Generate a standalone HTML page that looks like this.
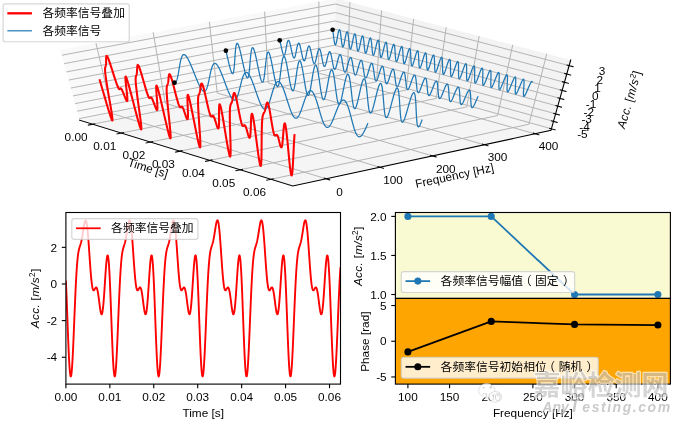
<!DOCTYPE html>
<html><head><meta charset="utf-8"><title>Figure</title>
<style>
html,body{margin:0;padding:0;background:#fff;}
body{width:680px;height:425px;overflow:hidden;}
svg{display:block;font-family:"Liberation Sans","Noto Sans CJK SC",sans-serif;}
</style></head><body>
<svg width="680" height="425" viewBox="0 0 680 425">
<rect width="680" height="425" fill="#fff"/>
<g opacity="0.999">
<g id="ax3d">
<polygon points="79.66,120.25 334.16,69.92 335.72,-1.63 60.3,49.64" fill="#f9f9f9"/>
<polygon points="334.16,69.92 551,130.4 570.69,60.03 335.72,-1.63" fill="#f3f3f3"/>
<polygon points="79.66,120.25 292.73,185.97 551,130.4 334.16,69.92" fill="#f5f5f5"/>
<g fill="none" stroke="#b0b0b0" stroke-width="0.94" stroke-linejoin="round">
<polyline points="92.59,124.23 347.34,73.6 349.95,2.11"/>
<polyline points="121.29,133.09 376.6,81.76 381.56,10.4"/>
<polyline points="150.4,142.07 406.26,90.03 413.64,18.82"/>
<polyline points="179.93,151.18 436.31,98.41 446.18,27.36"/>
<polyline points="209.87,160.41 466.78,106.91 479.2,36.02"/>
<polyline points="240.24,169.78 497.67,115.53 512.72,44.82"/>
<polyline points="271.05,179.29 528.98,124.26 546.74,53.74"/>
<polyline points="326.11,178.79 112.49,113.75 95.93,43.01"/>
<polyline points="379.76,167.25 165.29,103.31 153.17,32.35"/>
<polyline points="432.47,155.91 217.22,93.04 209.4,21.89"/>
<polyline points="484.28,144.76 268.31,82.94 264.63,11.61"/>
<polyline points="535.21,133.8 318.56,73.01 318.9,1.5"/>
<polyline points="79.22,118.64 334.19,68.29 551.45,128.81"/>
<polyline points="77.18,111.2 334.36,60.73 553.53,121.39"/>
<polyline points="75.1,103.62 334.52,53.04 555.64,113.84"/>
<polyline points="72.99,95.92 334.69,45.22 557.78,106.16"/>
<polyline points="70.83,88.07 334.87,37.26 559.97,98.34"/>
<polyline points="68.64,80.08 335.04,29.17 562.2,90.38"/>
<polyline points="66.42,71.95 335.22,20.93 564.46,82.28"/>
<polyline points="64.15,63.67 335.41,12.56 566.77,74.02"/>
<polyline points="61.83,55.24 335.59,4.03 569.13,65.61"/>
</g>
<g fill="none" stroke="#1f77b4" stroke-width="1.25" stroke-linejoin="round">
<path d="M174.48 82.71 L174.73 82.69 L174.97 82.62 L175.2 82.51 L175.43 82.34 L175.65 82.13 L175.86 81.88 L176.07 81.58 L176.26 81.23 L176.46 80.84 L176.64 80.41 L176.82 79.94 L177 79.43 L177.17 78.89 L177.33 78.3 L177.49 77.69 L177.65 77.04 L177.8 76.37 L177.95 75.67 L178.09 74.94 L178.24 74.19 L178.37 73.43 L178.51 72.64 L178.65 71.84 L178.78 71.03 L178.92 70.21 L179.05 69.39 L179.18 68.56 L179.32 67.73 L179.45 66.9 L179.59 66.08 L179.73 65.27 L179.87 64.46 L180.01 63.67 L180.16 62.9 L180.3 62.15 L180.46 61.42 L180.61 60.71 L180.78 60.03 L180.94 59.38 L181.11 58.77 L181.29 58.19 L181.47 57.64 L181.66 57.13 L181.86 56.67 L182.06 56.25 L182.26 55.87 L182.48 55.54 L182.7 55.25 L182.93 55.02 L183.17 54.84 L183.41 54.7 L183.66 54.62 L183.92 54.59 L184.19 54.61 L184.46 54.68 L184.74 54.81 L185.03 54.99 L185.33 55.22 L185.63 55.51 L185.94 55.84 L186.26 56.23 L186.58 56.66 L186.91 57.14 L187.25 57.67 L187.59 58.24 L187.94 58.86 L188.29 59.51 L188.65 60.21 L189.01 60.94 L189.38 61.71 L189.75 62.51 L190.13 63.34 L190.51 64.2 L190.89 65.08 L191.27 65.99 L191.66 66.91 L192.05 67.85 L192.44 68.81 L192.83 69.78 L193.22 70.75 L193.61 71.74 L194.01 72.72 L194.4 73.7 L194.79 74.68 L195.18 75.66 L195.56 76.63 L195.95 77.58 L196.33 78.52 L196.71 79.45 L197.09 80.35 L197.46 81.24 L197.83 82.09 L198.2 82.93 L198.56 83.73 L198.92 84.5 L199.28 85.24 L199.62 85.95 L199.97 86.62 L200.31 87.25 L200.64 87.84 L200.97 88.39 L201.29 88.89 L201.61 89.35 L201.92 89.77 L202.22 90.14 L202.52 90.47 L202.81 90.74 L203.1 90.97 L203.38 91.15 L203.65 91.28 L203.92 91.36 L204.18 91.4 L204.43 91.38 L204.68 91.32 L204.93 91.2 L205.16 91.04 L205.4 90.84 L205.62 90.58 L205.84 90.28 L206.06 89.94 L206.27 89.56 L206.48 89.13 L206.68 88.66 L206.88 88.16 L207.07 87.61 L207.26 87.04 L207.45 86.42 L207.63 85.78 L207.81 85.11 L207.99 84.41 L208.16 83.69 L208.34 82.95 L208.51 82.18 L208.68 81.4 L208.85 80.61 L209.01 79.8 L209.18 78.98 L209.35 78.16 L209.51 77.34 L209.68 76.51 L209.85 75.69 L210.02 74.87 L210.19 74.06 L210.36 73.26 L210.54 72.47 L210.71 71.7 L210.89 70.95 L211.08 70.22 L211.26 69.52 L211.45 68.84 L211.65 68.2 L211.85 67.58 L212.05 67 L212.25 66.46 L212.47 65.95 L212.68 65.49 L212.9 65.07 L213.13 64.69 L213.36 64.36 L213.6 64.08 L213.84 63.85 L214.09 63.66 L214.35 63.53 L214.61 63.45 L214.88 63.42 L215.15 63.44 L215.43 63.51 L215.71 63.64 L216 63.82 L216.29 64.05 L216.59 64.34 L216.9 64.67 L217.21 65.05 L217.53 65.49 L217.85 65.97 L218.17 66.49 L218.5 67.07 L218.84 67.68 L219.18 68.34 L219.52 69.03 L219.86 69.76 L220.21 70.53 L220.56 71.33 L220.92 72.16 L221.28 73.01 L221.64 73.9 L222 74.8 L222.36 75.72 L222.72 76.67 L223.09 77.62 L223.45 78.59 L223.82 79.56 L224.18 80.54 L224.55 81.53 L224.92 82.51 L225.28 83.49 L225.64 84.46 L226.01 85.43 L226.37 86.38 L226.72 87.32 L227.08 88.25 L227.43 89.15 L227.79 90.03 L228.13 90.89 L228.48 91.72 L228.82 92.53 L229.16 93.3 L229.5 94.04 L229.83 94.74 L230.16 95.41 L230.48 96.04 L230.8 96.63 L231.12 97.18 L231.43 97.69 L231.74 98.15 L232.04 98.57 L232.34 98.94 L232.63 99.27 L232.92 99.55 L233.2 99.78 L233.48 99.96 L233.76 100.09 L234.03 100.17 L234.3 100.21 L234.56 100.2 L234.82 100.13 L235.07 100.02 L235.32 99.87 L235.57 99.66 L235.81 99.41 L236.05 99.12 L236.28 98.78 L236.51 98.39 L236.74 97.97 L236.96 97.51 L237.19 97 L237.4 96.47 L237.62 95.89 L237.83 95.28 L238.04 94.65 L238.25 93.98 L238.46 93.29 L238.67 92.57 L238.87 91.83 L239.07 91.07 L239.28 90.29 L239.48 89.5 L239.68 88.69 L239.88 87.88 L240.08 87.06 L240.28 86.24 L240.48 85.42 L240.69 84.6 L240.89 83.78 L241.1 82.98 L241.3 82.18 L241.51 81.4 L241.72 80.63 L241.93 79.88 L242.15 79.16 L242.36 78.46 L242.58 77.78 L242.8 77.14 L243.03 76.53 L243.26 75.95 L243.49 75.41 L243.73 74.9 L243.96 74.44 L244.21 74.02 L244.45 73.65 L244.7 73.32 L244.96 73.04 L245.22 72.81 L245.48 72.62 L245.74 72.49 L246.01 72.41 L246.29 72.38 L246.57 72.4 L246.85 72.48 L247.13 72.6 L247.42 72.78 L247.72 73.01 L248.02 73.3 L248.32 73.63 L248.62 74.01 L248.93 74.45 L249.24 74.93 L249.56 75.45 L249.87 76.02 L250.19 76.64 L250.52 77.29 L250.84 77.98 L251.17 78.71 L251.5 79.48 L251.83 80.28 L252.16 81.11 L252.5 81.96 L252.83 82.84 L253.17 83.75 L253.51 84.67 L253.85 85.61 L254.19 86.56 L254.53 87.53 L254.86 88.5 L255.2 89.48 L255.54 90.46 L255.88 91.44 L256.22 92.42 L256.56 93.39 L256.89 94.36 L257.23 95.31 L257.56 96.25 L257.89 97.17 L258.22 98.08 L258.55 98.96 L258.87 99.82 L259.2 100.65 L259.52 101.45 L259.84 102.22 L260.15 102.96 L260.47 103.67 L260.78 104.34 L261.09 104.97 L261.4 105.56 L261.7 106.11 L262 106.61 L262.3 107.08 L262.59 107.5 L262.89 107.87 L263.18 108.2 L263.46 108.48 L263.75 108.71 L264.03 108.89 L264.3 109.03 L264.58 109.11 L264.85 109.15 L265.12 109.14 L265.39 109.08 L265.65 108.97 L265.91 108.82 L266.17 108.61 L266.43 108.37 L266.69 108.08 L266.94 107.74 L267.19 107.36 L267.44 106.94 L267.68 106.48 L267.93 105.98 L268.17 105.45 L268.42 104.88 L268.66 104.27 L268.9 103.64 L269.14 102.97 L269.37 102.29 L269.61 101.57 L269.85 100.83 L270.08 100.08 L270.32 99.31 L270.56 98.52 L270.79 97.72 L271.03 96.91 L271.26 96.1 L271.5 95.28 L271.74 94.46 L271.98 93.64 L272.22 92.83 L272.45 92.03 L272.7 91.23 L272.94 90.45 L273.18 89.69 L273.43 88.95 L273.67 88.22 L273.92 87.52 L274.17 86.85 L274.42 86.21 L274.68 85.6 L274.93 85.03 L275.19 84.49 L275.45 83.99 L275.71 83.53 L275.97 83.11 L276.24 82.74 L276.51 82.41 L276.78 82.13 L277.05 81.9 L277.33 81.72 L277.61 81.58 L277.89 81.5 L278.17 81.47 L278.45 81.5 L278.74 81.57 L279.03 81.7 L279.32 81.88 L279.61 82.11 L279.91 82.39 L280.2 82.73 L280.5 83.11 L280.8 83.54 L281.1 84.02 L281.41 84.54 L281.71 85.11 L282.02 85.73 L282.32 86.38 L282.63 87.07 L282.94 87.8 L283.25 88.56 L283.56 89.36 L283.87 90.19 L284.18 91.04 L284.49 91.92 L284.81 92.82 L285.12 93.74 L285.43 94.68 L285.74 95.63 L286.06 96.6 L286.37 97.57 L286.68 98.55 L286.99 99.53 L287.3 100.51 L287.61 101.48 L287.92 102.46 L288.23 103.42 L288.54 104.37 L288.84 105.31 L289.15 106.23 L289.46 107.13 L289.76 108.01 L290.06 108.87 L290.36 109.7 L290.66 110.5 L290.96 111.28 L291.26 112.01 L291.56 112.72 L291.85 113.39 L292.14 114.02 L292.44 114.61 L292.73 115.16 L293.02 115.67 L293.3 116.13 L293.59 116.55 L293.88 116.93 L294.16 117.25 L294.45 117.54 L294.73 117.77 L295.01 117.95 L295.29 118.09 L295.57 118.18 L295.85 118.22 L296.12 118.21 L296.4 118.15 L296.67 118.05 L296.95 117.9 L297.22 117.7 L297.49 117.45 L297.77 117.16 L298.04 116.83 L298.31 116.46 L298.58 116.04 L298.85 115.58 L299.12 115.09 L299.39 114.56 L299.66 113.99 L299.93 113.39 L300.2 112.76 L300.47 112.1 L300.74 111.42 L301.01 110.71 L301.28 109.97 L301.55 109.22 L301.82 108.45 L302.09 107.67 L302.36 106.87 L302.63 106.07 L302.91 105.26 L303.18 104.45 L303.45 103.63 L303.73 102.82 L304 102.01 L304.28 101.21 L304.55 100.42 L304.83 99.64 L305.11 98.88 L305.39 98.14 L305.67 97.42 L305.95 96.73 L306.23 96.06 L306.51 95.42 L306.79 94.81 L307.08 94.24 L307.36 93.7 L307.65 93.21 L307.93 92.75 L308.22 92.33 L308.51 91.96 L308.79 91.64 L309.08 91.36 L309.37 91.13 L309.66 90.95 L309.95 90.81 L310.24 90.73 L310.53 90.71 L310.82 90.73 L311.11 90.8 L311.4 90.93 L311.7 91.11 L311.99 91.34 L312.28 91.62 L312.57 91.96 L312.86 92.34 L313.15 92.77 L313.45 93.25 L313.74 93.77 L314.03 94.34 L314.32 94.95 L314.61 95.6 L314.9 96.3 L315.19 97.02 L315.48 97.79 L315.77 98.58 L316.05 99.41 L316.34 100.26 L316.63 101.14 L316.92 102.04 L317.2 102.95 L317.49 103.89 L317.77 104.84 L318.06 105.8 L318.34 106.77 L318.62 107.75 L318.91 108.73 L319.19 109.71 L319.47 110.68 L319.75 111.65 L320.03 112.61 L320.31 113.56 L320.59 114.5 L320.87 115.42 L321.15 116.32 L321.43 117.2 L321.71 118.06 L321.99 118.89 L322.26 119.69 L322.54 120.46 L322.82 121.2 L323.1 121.9 L323.37 122.57 L323.65 123.2 L323.93 123.8 L324.21 124.35 L324.49 124.85 L324.76 125.32 L325.04 125.74 L325.32 126.12 L325.6 126.44 L325.88 126.73 L326.16 126.96 L326.44 127.15 L326.72 127.29 L327.01 127.38 L327.29 127.42 L327.58 127.41 L327.86 127.36 L328.15 127.26 L328.43 127.11 L328.72 126.91 L329.01 126.67 L329.3 126.39 L329.59 126.06 L329.88 125.68 L330.18 125.27 L330.47 124.82 L330.77 124.33 L331.06 123.8 L331.36 123.24 L331.66 122.64 L331.96 122.02 L332.26 121.36 L332.56 120.68 L332.87 119.98 L333.17 119.25 L333.48 118.5 L333.78 117.74 L334.09 116.96 L334.4 116.17 L334.71 115.37 L335.02 114.56 L335.33 113.75 L335.64 112.94 L335.95 112.13 L336.26 111.33 L336.57 110.53 L336.89 109.74 L337.2 108.97 L337.51 108.22 L337.83 107.48 L338.14 106.76 L338.46 106.07 L338.77 105.4 L339.08 104.77 L339.39 104.16 L339.71 103.59 L340.02 103.06 L340.33 102.56 L340.64 102.11 L340.95 101.7 L341.26 101.33 L341.57 101 L341.87 100.72 L342.18 100.49 L342.48 100.31 L342.78 100.18 L343.08 100.1 L343.38 100.08 L343.68 100.1 L343.98 100.18 L344.27 100.3 L344.56 100.48 L344.85 100.71 L345.14 101 L345.43 101.33 L345.71 101.71 L346 102.14 L346.28 102.62 L346.56 103.14 L346.83 103.71 L347.11 104.32 L347.38 104.97 L347.65 105.66 L347.92 106.39 L348.19 107.15 L348.46 107.94 L348.72 108.76 L348.99 109.61 L349.25 110.49 L349.51 111.39 L349.77 112.3 L350.03 113.24 L350.28 114.19 L350.54 115.15 L350.79 116.12 L351.05 117.09 L351.3 118.07 L351.55 119.04 L351.81 120.02 L352.06 120.98 L352.31 121.94 L352.56 122.89 L352.81 123.83 L353.07 124.75 L353.32 125.65 L353.57 126.53 L353.82 127.38 L354.08 128.21 L354.33 129.01 L354.59 129.78 L354.85 130.52 L355.1 131.23 L355.36 131.89 L355.62 132.52 L355.89 133.12 L356.15 133.67 L356.42 134.18 L356.69 134.64 L356.96 135.06 L357.23 135.44 L357.5 135.77 L357.78 136.05 L358.06 136.29 L358.34 136.48 L358.62 136.62 L358.91 136.71 L359.2 136.76 L359.49 136.75 L359.78 136.7 L360.08 136.6 L360.38 136.45 L360.68 136.26 L360.99 136.02 L361.3 135.74 L361.61 135.42 L361.92 135.05 L362.24 134.64 L362.56 134.19 L362.88 133.7 L363.2 133.18 L363.53 132.62 L363.86 132.03 L364.19 131.41 L364.52 130.76 L364.86 130.08 L365.2 129.38 L365.53 128.66 L365.88 127.92 L366.22 127.16 L366.56 126.38 L366.91 125.6 L367.26 124.8 L367.6 124 L367.95 123.19"/>
<path d="M225.88 50.63 L226.32 52.46 L226.76 54.33 L227.2 56.22 L227.64 58.12 L228.08 59.98 L228.51 61.8 L228.93 63.55 L229.35 65.22 L229.75 66.77 L230.15 68.21 L230.52 69.5 L230.89 70.63 L231.23 71.6 L231.57 72.39 L231.88 72.99 L232.17 73.41 L232.45 73.63 L232.71 73.65 L232.96 73.48 L233.18 73.11 L233.39 72.55 L233.58 71.81 L233.76 70.91 L233.92 69.84 L234.08 68.62 L234.22 67.27 L234.35 65.81 L234.47 64.24 L234.59 62.6 L234.71 60.91 L234.82 59.18 L234.93 57.44 L235.05 55.7 L235.17 54.01 L235.29 52.36 L235.42 50.8 L235.56 49.34 L235.72 48 L235.88 46.8 L236.06 45.75 L236.26 44.88 L236.47 44.19 L236.69 43.7 L236.94 43.42 L237.2 43.34 L237.48 43.47 L237.78 43.82 L238.09 44.37 L238.42 45.12 L238.77 46.06 L239.13 47.18 L239.5 48.46 L239.88 49.9 L240.28 51.46 L240.68 53.13 L241.08 54.89 L241.5 56.72 L241.91 58.59 L242.32 60.48 L242.74 62.37 L243.15 64.24 L243.55 66.06 L243.95 67.81 L244.34 69.47 L244.73 71.03 L245.1 72.46 L245.46 73.75 L245.81 74.89 L246.14 75.86 L246.46 76.65 L246.77 77.25 L247.06 77.67 L247.34 77.89 L247.6 77.92 L247.85 77.74 L248.09 77.38 L248.31 76.83 L248.52 76.09 L248.71 75.19 L248.9 74.12 L249.07 72.91 L249.24 71.56 L249.4 70.1 L249.55 68.54 L249.7 66.91 L249.84 65.21 L249.99 63.49 L250.13 61.75 L250.28 60.02 L250.43 58.32 L250.58 56.68 L250.74 55.12 L250.91 53.66 L251.09 52.32 L251.28 51.12 L251.48 50.07 L251.69 49.2 L251.91 48.51 L252.15 48.02 L252.41 47.73 L252.67 47.66 L252.95 47.79 L253.25 48.13 L253.56 48.68 L253.88 49.43 L254.21 50.37 L254.55 51.48 L254.91 52.77 L255.27 54.2 L255.64 55.76 L256.02 57.43 L256.4 59.18 L256.78 61.01 L257.17 62.88 L257.56 64.77 L257.94 66.66 L258.33 68.53 L258.7 70.34 L259.08 72.09 L259.45 73.76 L259.81 75.31 L260.16 76.74 L260.5 78.04 L260.83 79.17 L261.16 80.14 L261.47 80.94 L261.77 81.54 L262.06 81.96 L262.33 82.19 L262.6 82.21 L262.85 82.04 L263.1 81.68 L263.33 81.13 L263.55 80.4 L263.77 79.5 L263.97 78.44 L264.17 77.23 L264.36 75.88 L264.55 74.43 L264.73 72.87 L264.91 71.24 L265.09 69.55 L265.26 67.83 L265.44 66.09 L265.62 64.36 L265.8 62.67 L265.98 61.03 L266.17 59.47 L266.37 58.01 L266.57 56.67 L266.78 55.47 L267 54.42 L267.23 53.55 L267.47 52.86 L267.72 52.37 L267.98 52.08 L268.26 52 L268.54 52.13 L268.83 52.48 L269.13 53.02 L269.44 53.77 L269.76 54.71 L270.09 55.82 L270.43 57.1 L270.77 58.53 L271.12 60.09 L271.47 61.75 L271.83 63.51 L272.18 65.33 L272.54 67.2 L272.9 69.09 L273.26 70.98 L273.61 72.84 L273.96 74.66 L274.31 76.41 L274.66 78.07 L274.99 79.63 L275.32 81.06 L275.65 82.35 L275.97 83.49 L276.28 84.46 L276.58 85.25 L276.87 85.86 L277.15 86.28 L277.43 86.51 L277.7 86.54 L277.96 86.37 L278.21 86.01 L278.46 85.47 L278.7 84.74 L278.93 83.84 L279.16 82.78 L279.38 81.58 L279.6 80.24 L279.81 78.78 L280.02 77.23 L280.23 75.6 L280.44 73.92 L280.65 72.19 L280.86 70.46 L281.07 68.74 L281.28 67.04 L281.49 65.41 L281.71 63.85 L281.94 62.39 L282.17 61.05 L282.4 59.85 L282.64 58.81 L282.89 57.93 L283.15 57.25 L283.41 56.75 L283.68 56.47 L283.95 56.38 L284.24 56.51 L284.52 56.85 L284.82 57.4 L285.12 58.14 L285.43 59.08 L285.74 60.19 L286.06 61.47 L286.38 62.89 L286.71 64.45 L287.04 66.11 L287.36 67.87 L287.69 69.69 L288.02 71.56 L288.35 73.44 L288.68 75.33 L289.01 77.19 L289.33 79.01 L289.66 80.76 L289.97 82.42 L290.29 83.97 L290.6 85.41 L290.9 86.7 L291.21 87.83 L291.5 88.81 L291.79 89.6 L292.08 90.22 L292.36 90.64 L292.64 90.86 L292.91 90.9 L293.17 90.73 L293.44 90.38 L293.7 89.83 L293.95 89.11 L294.2 88.21 L294.45 87.16 L294.69 85.96 L294.94 84.62 L295.18 83.17 L295.42 81.62 L295.66 80 L295.9 78.31 L296.14 76.6 L296.38 74.86 L296.63 73.14 L296.87 71.45 L297.12 69.82 L297.37 68.26 L297.62 66.8 L297.88 65.47 L298.13 64.27 L298.4 63.22 L298.66 62.35 L298.93 61.66 L299.21 61.17 L299.48 60.88 L299.76 60.8 L300.05 60.92 L300.34 61.26 L300.63 61.8 L300.92 62.55 L301.21 63.48 L301.51 64.59 L301.81 65.87 L302.11 67.29 L302.41 68.84 L302.71 70.5 L303.02 72.26 L303.32 74.08 L303.62 75.94 L303.92 77.83 L304.22 79.71 L304.52 81.57 L304.81 83.39 L305.11 85.13 L305.4 86.8 L305.69 88.35 L305.98 89.78 L306.27 91.07 L306.55 92.21 L306.84 93.19 L307.12 93.98 L307.4 94.6 L307.67 95.02 L307.95 95.25 L308.22 95.28 L308.5 95.12 L308.77 94.77 L309.04 94.23 L309.31 93.51 L309.58 92.62 L309.85 91.57 L310.12 90.37 L310.39 89.04 L310.66 87.59 L310.93 86.05 L311.2 84.42 L311.48 82.74 L311.75 81.03 L312.02 79.3 L312.3 77.58 L312.58 75.89 L312.86 74.26 L313.14 72.71 L313.42 71.25 L313.7 69.91 L313.98 68.71 L314.27 67.67 L314.55 66.8 L314.84 66.11 L315.12 65.62 L315.41 65.32 L315.69 65.24 L315.98 65.37 L316.26 65.7 L316.55 66.24 L316.83 66.98 L317.11 67.91 L317.4 69.02 L317.68 70.3 L317.95 71.72 L318.23 73.27 L318.51 74.93 L318.78 76.68 L319.06 78.5 L319.33 80.36 L319.6 82.24 L319.87 84.12 L320.14 85.98 L320.41 87.8 L320.68 89.54 L320.94 91.2 L321.21 92.76 L321.48 94.19 L321.74 95.48 L322.01 96.62 L322.28 97.6 L322.55 98.39 L322.82 99.01 L323.1 99.44 L323.37 99.67 L323.65 99.7 L323.93 99.55 L324.21 99.2 L324.49 98.66 L324.78 97.94 L325.07 97.05 L325.36 96.01 L325.65 94.81 L325.95 93.48 L326.25 92.04 L326.55 90.5 L326.86 88.88 L327.16 87.2 L327.47 85.49 L327.78 83.77 L328.09 82.05 L328.4 80.37 L328.71 78.74 L329.02 77.18 L329.33 75.73 L329.64 74.39 L329.95 73.19 L330.25 72.15 L330.56 71.28 L330.86 70.59 L331.15 70.1 L331.45 69.8 L331.74 69.72 L332.03 69.84 L332.31 70.18 L332.59 70.72 L332.86 71.45 L333.13 72.38 L333.4 73.49 L333.66 74.76 L333.92 76.18 L334.17 77.73 L334.42 79.38 L334.67 81.13 L334.91 82.95 L335.15 84.81 L335.4 86.69 L335.64 88.57 L335.87 90.43 L336.11 92.24 L336.35 93.99 L336.6 95.65 L336.84 97.2 L337.08 98.63 L337.33 99.92 L337.58 101.06 L337.84 102.04 L338.1 102.84 L338.36 103.45 L338.63 103.88 L338.9 104.12 L339.18 104.16 L339.47 104 L339.76 103.65 L340.06 103.12 L340.36 102.41 L340.67 101.52 L340.98 100.48 L341.3 99.29 L341.62 97.96 L341.95 96.52 L342.28 94.99 L342.62 93.37 L342.96 91.7 L343.3 89.99 L343.64 88.27 L343.99 86.55 L344.33 84.87 L344.68 83.24 L345.02 81.69 L345.36 80.24 L345.69 78.9 L346.03 77.71 L346.36 76.66 L346.68 75.79 L347 75.1 L347.31 74.61 L347.61 74.32 L347.9 74.23 L348.19 74.35 L348.47 74.68 L348.75 75.22 L349.01 75.96 L349.27 76.88 L349.52 77.99 L349.76 79.26 L349.99 80.67 L350.22 82.22 L350.45 83.87 L350.67 85.62 L350.88 87.43 L351.1 89.29 L351.31 91.17 L351.52 93.05 L351.72 94.9 L351.94 96.71 L352.15 98.46 L352.36 100.12 L352.58 101.67 L352.8 103.1 L353.03 104.4 L353.26 105.54 L353.51 106.51 L353.75 107.31 L354.01 107.93 L354.27 108.36 L354.55 108.6 L354.83 108.64 L355.12 108.49 L355.42 108.14 L355.73 107.61 L356.05 106.9 L356.38 106.02 L356.71 104.98 L357.06 103.79 L357.41 102.47 L357.77 101.04 L358.13 99.5 L358.5 97.89 L358.87 96.22 L359.25 94.52 L359.63 92.8 L360.01 91.09 L360.38 89.41 L360.76 87.78 L361.14 86.23 L361.5 84.78 L361.87 83.45 L362.23 82.25 L362.58 81.21 L362.92 80.34 L363.25 79.65 L363.58 79.16 L363.89 78.86 L364.19 78.77 L364.48 78.9 L364.76 79.23 L365.02 79.76 L365.28 80.5 L365.52 81.42 L365.76 82.52 L365.98 83.79 L366.19 85.2 L366.4 86.74 L366.59 88.4 L366.79 90.14 L366.97 91.95 L367.15 93.8 L367.33 95.68 L367.51 97.56 L367.69 99.41 L367.87 101.22 L368.06 102.97 L368.24 104.62 L368.44 106.18 L368.64 107.61 L368.84 108.9 L369.06 110.04 L369.29 111.02 L369.52 111.82 L369.77 112.44 L370.03 112.87 L370.3 113.11 L370.59 113.15 L370.89 113 L371.2 112.66 L371.52 112.14 L371.85 111.43 L372.2 110.55 L372.56 109.52 L372.93 108.33 L373.31 107.02 L373.7 105.58 L374.09 104.06 L374.49 102.45 L374.9 100.78 L375.31 99.08 L375.73 97.37 L376.14 95.66 L376.55 93.98 L376.96 92.36 L377.37 90.81 L377.77 89.36 L378.16 88.03 L378.55 86.83 L378.92 85.79 L379.28 84.92 L379.63 84.23 L379.97 83.74 L380.29 83.44 L380.6 83.35 L380.89 83.47 L381.17 83.8 L381.43 84.34 L381.67 85.07 L381.9 85.99 L382.12 87.09 L382.32 88.35 L382.51 89.76 L382.69 91.3 L382.86 92.95 L383.02 94.69 L383.18 96.5 L383.33 98.35 L383.48 100.23 L383.63 102.1 L383.78 103.96 L383.93 105.76 L384.08 107.51 L384.24 109.16 L384.41 110.71 L384.59 112.14 L384.77 113.44 L384.97 114.58 L385.18 115.56 L385.41 116.36 L385.65 116.98 L385.9 117.41 L386.17 117.65 L386.46 117.7 L386.77 117.55 L387.09 117.22 L387.42 116.69 L387.77 115.99 L388.14 115.12 L388.52 114.08 L388.92 112.9 L389.32 111.59 L389.74 110.16 L390.17 108.64 L390.61 107.04 L391.05 105.37 L391.5 103.68 L391.94 101.96 L392.39 100.26 L392.84 98.59 L393.29 96.97 L393.73 95.42 L394.16 93.97 L394.58 92.64 L394.99 91.45 L395.39 90.41 L395.77 89.54 L396.14 88.85 L396.49 88.35 L396.82 88.06 L397.13 87.97 L397.42 88.08 L397.7 88.41 L397.95 88.94 L398.19 89.67 L398.4 90.59 L398.6 91.69 L398.78 92.95 L398.95 94.36 L399.11 95.89 L399.25 97.54 L399.38 99.28 L399.51 101.08 L399.63 102.93 L399.75 104.81 L399.86 106.68 L399.98 108.53 L400.1 110.34 L400.22 112.08 L400.36 113.73 L400.5 115.29 L400.65 116.72 L400.82 118.01 L401 119.15 L401.19 120.13 L401.41 120.93 L401.64 121.55 L401.89 121.99 L402.16 122.23 L402.45 122.28 L402.76 122.14 L403.09 121.8 L403.44 121.28 L403.81 120.58 L404.19 119.71 L404.6 118.69 L405.02 117.51 L405.46 116.2 L405.9 114.78 L406.37 113.26 L406.84 111.66 L407.31 110 L407.8 108.31 L408.28 106.6 L408.77 104.9 L409.25 103.23 L409.73 101.61 L410.2 100.07 L410.67 98.62 L411.12 97.29 L411.56 96.1 L411.98 95.06 L412.38 94.19 L412.76 93.5 L413.13 93 L413.47 92.7 L413.79 92.61 L414.08 92.73 L414.35 93.06 L414.6 93.59 L414.82 94.31 L415.03 95.23 L415.21 96.32 L415.37 97.58 L415.52 98.99 L415.65 100.52 L415.76 102.17 L415.87 103.9 L415.96 105.7 L416.05 107.55 L416.13 109.42 L416.22 111.29 L416.3 113.14 L416.39 114.95 L416.49 116.69 L416.59 118.34 L416.71 119.89 L416.83 121.32 L416.98 122.61 L417.14 123.75 L417.32 124.73 L417.52 125.54 L417.75 126.16 L417.99 126.6 L418.26 126.84 L418.55 126.9 L418.87 126.76 L419.21 126.42 L419.57 125.91 L419.96 125.21 L420.37 124.35 L420.79 123.32 L421.24 122.15 L421.71 120.85 L422.19 119.43"/>
<path d="M279.72 40.36 L280.03 41.49 L280.34 42.76 L280.66 44.12 L280.98 45.54 L281.3 46.98 L281.61 48.4 L281.93 49.77 L282.24 51.05 L282.55 52.2 L282.85 53.2 L283.14 54.02 L283.43 54.64 L283.71 55.05 L283.98 55.23 L284.24 55.19 L284.5 54.92 L284.75 54.44 L284.99 53.76 L285.23 52.91 L285.47 51.9 L285.7 50.77 L285.93 49.55 L286.16 48.27 L286.39 46.98 L286.62 45.71 L286.85 44.51 L287.09 43.4 L287.33 42.42 L287.58 41.6 L287.83 40.98 L288.09 40.56 L288.36 40.37 L288.63 40.41 L288.91 40.68 L289.2 41.18 L289.49 41.9 L289.78 42.81 L290.08 43.89 L290.38 45.12 L290.69 46.45 L290.99 47.85 L291.3 49.29 L291.6 50.72 L291.91 52.11 L292.21 53.43 L292.5 54.62 L292.8 55.68 L293.09 56.56 L293.37 57.25 L293.65 57.73 L293.92 57.99 L294.19 58.02 L294.45 57.83 L294.71 57.43 L294.97 56.82 L295.22 56.02 L295.47 55.06 L295.72 53.97 L295.96 52.78 L296.21 51.52 L296.45 50.23 L296.7 48.95 L296.95 47.72 L297.2 46.57 L297.45 45.54 L297.71 44.67 L297.97 43.98 L298.23 43.49 L298.5 43.22 L298.77 43.18 L299.05 43.38 L299.33 43.8 L299.62 44.45 L299.9 45.29 L300.19 46.32 L300.48 47.5 L300.77 48.8 L301.07 50.18 L301.36 51.61 L301.65 53.05 L301.94 54.46 L302.23 55.8 L302.52 57.04 L302.8 58.15 L303.08 59.09 L303.36 59.85 L303.64 60.4 L303.91 60.74 L304.18 60.85 L304.45 60.73 L304.72 60.4 L304.98 59.86 L305.25 59.12 L305.51 58.22 L305.77 57.17 L306.03 56.01 L306.29 54.77 L306.55 53.48 L306.81 52.2 L307.08 50.95 L307.34 49.77 L307.61 48.7 L307.88 47.77 L308.15 47.02 L308.42 46.46 L308.69 46.12 L308.97 46 L309.24 46.11 L309.52 46.46 L309.8 47.03 L310.08 47.81 L310.36 48.78 L310.64 49.91 L310.92 51.17 L311.2 52.53 L311.47 53.95 L311.75 55.39 L312.03 56.81 L312.31 58.18 L312.58 59.46 L312.86 60.61 L313.13 61.61 L313.4 62.44 L313.68 63.06 L313.95 63.47 L314.22 63.66 L314.49 63.62 L314.76 63.36 L315.04 62.89 L315.31 62.22 L315.58 61.37 L315.86 60.37 L316.13 59.24 L316.41 58.03 L316.69 56.75 L316.97 55.47 L317.25 54.2 L317.53 53 L317.81 51.89 L318.09 50.91 L318.37 50.09 L318.65 49.47 L318.93 49.05 L319.2 48.85 L319.48 48.89 L319.76 49.16 L320.03 49.66 L320.31 50.37 L320.58 51.28 L320.85 52.35 L321.12 53.57 L321.38 54.9 L321.65 56.3 L321.91 57.74 L322.18 59.17 L322.44 60.56 L322.7 61.88 L322.97 63.07 L323.23 64.13 L323.5 65.01 L323.76 65.71 L324.03 66.19 L324.3 66.46 L324.58 66.5 L324.85 66.31 L325.13 65.91 L325.42 65.31 L325.7 64.52 L325.99 63.56 L326.28 62.48 L326.57 61.29 L326.86 60.04 L327.16 58.75 L327.45 57.47 L327.75 56.25 L328.04 55.1 L328.34 54.08 L328.63 53.2 L328.92 52.51 L329.21 52.02 L329.49 51.75 L329.77 51.71 L330.05 51.9 L330.32 52.32 L330.59 52.96 L330.85 53.8 L331.12 54.83 L331.37 56 L331.63 57.3 L331.88 58.68 L332.13 60.1 L332.38 61.54 L332.63 62.95 L332.88 64.29 L333.13 65.53 L333.39 66.64 L333.64 67.58 L333.9 68.34 L334.17 68.9 L334.44 69.24 L334.71 69.36 L334.99 69.25 L335.27 68.92 L335.56 68.39 L335.86 67.66 L336.15 66.76 L336.46 65.72 L336.76 64.56 L337.07 63.33 L337.38 62.05 L337.7 60.77 L338.01 59.52 L338.32 58.34 L338.63 57.27 L338.93 56.35 L339.23 55.59 L339.53 55.03 L339.82 54.68 L340.11 54.56 L340.39 54.68 L340.66 55.02 L340.93 55.59 L341.19 56.36 L341.44 57.33 L341.69 58.45 L341.93 59.71 L342.17 61.07 L342.41 62.48 L342.64 63.92 L342.88 65.34 L343.12 66.71 L343.36 67.99 L343.6 69.14 L343.84 70.15 L344.1 70.97 L344.35 71.6 L344.62 72.01 L344.89 72.21 L345.17 72.18 L345.46 71.92 L345.75 71.46 L346.05 70.79 L346.36 69.95 L346.68 68.95 L347 67.83 L347.32 66.62 L347.65 65.36 L347.98 64.07 L348.31 62.81 L348.63 61.61 L348.96 60.5 L349.28 59.52 L349.59 58.71 L349.9 58.08 L350.2 57.66 L350.49 57.46 L350.78 57.5 L351.05 57.76 L351.32 58.25 L351.57 58.96 L351.82 59.86 L352.06 60.94 L352.29 62.15 L352.52 63.48 L352.74 64.88 L352.97 66.31 L353.19 67.74 L353.41 69.13 L353.64 70.44 L353.86 71.64 L354.1 72.7 L354.34 73.59 L354.59 74.29 L354.85 74.77 L355.12 75.04 L355.4 75.09 L355.69 74.91 L355.98 74.52 L356.29 73.92 L356.61 73.13 L356.94 72.19 L357.27 71.11 L357.61 69.93 L357.95 68.68 L358.3 67.4 L358.64 66.12 L358.99 64.9 L359.33 63.76 L359.66 62.73 L359.99 61.86 L360.31 61.17 L360.63 60.67 L360.93 60.4 L361.22 60.35 L361.49 60.54 L361.76 60.96 L362.01 61.59 L362.25 62.43 L362.49 63.45 L362.71 64.62 L362.93 65.91 L363.14 67.29 L363.35 68.72 L363.56 70.15 L363.76 71.56 L363.97 72.9 L364.19 74.14 L364.41 75.25 L364.64 76.2 L364.88 76.96 L365.13 77.52 L365.4 77.87 L365.67 77.99 L365.96 77.89 L366.26 77.57 L366.58 77.04 L366.9 76.31 L367.24 75.42 L367.58 74.39 L367.94 73.24 L368.29 72.01 L368.66 70.73 L369.02 69.46 L369.38 68.21 L369.74 67.04 L370.09 65.97 L370.44 65.04 L370.77 64.29 L371.09 63.73 L371.41 63.38 L371.7 63.25 L371.98 63.36 L372.25 63.7 L372.5 64.27 L372.74 65.04 L372.97 66 L373.19 67.12 L373.39 68.37 L373.59 69.73 L373.79 71.14 L373.98 72.57 L374.18 73.99 L374.37 75.36 L374.57 76.64 L374.78 77.8 L375 78.8 L375.23 79.63 L375.47 80.26 L375.73 80.68 L376 80.88 L376.28 80.85 L376.59 80.6 L376.9 80.15 L377.24 79.49 L377.58 78.65 L377.94 77.66 L378.3 76.55 L378.68 75.34 L379.05 74.08 L379.43 72.8 L379.81 71.54 L380.19 70.34 L380.56 69.24 L380.92 68.26 L381.27 67.45 L381.61 66.82 L381.93 66.39 L382.24 66.19 L382.53 66.23 L382.8 66.49 L383.05 66.98 L383.29 67.68 L383.51 68.58 L383.72 69.65 L383.92 70.86 L384.11 72.18 L384.29 73.58 L384.47 75.01 L384.65 76.44 L384.83 77.83 L385.01 79.14 L385.21 80.34 L385.41 81.4 L385.63 82.29 L385.86 82.99 L386.11 83.48 L386.37 83.75 L386.66 83.8 L386.96 83.63 L387.28 83.24 L387.61 82.65 L387.96 81.88 L388.33 80.94 L388.71 79.86 L389.1 78.69 L389.49 77.44 L389.89 76.17 L390.28 74.9 L390.68 73.68 L391.07 72.54 L391.45 71.51 L391.81 70.64 L392.17 69.95 L392.5 69.45 L392.82 69.18 L393.12 69.13 L393.39 69.31 L393.65 69.72 L393.89 70.36 L394.11 71.19 L394.31 72.2 L394.5 73.37 L394.68 74.66 L394.85 76.03 L395.02 77.46 L395.18 78.89 L395.34 80.3 L395.51 81.64 L395.69 82.88 L395.88 83.99 L396.08 84.94 L396.3 85.7 L396.54 86.27 L396.8 86.62 L397.08 86.74 L397.38 86.65 L397.7 86.33 L398.03 85.81 L398.39 85.09 L398.77 84.21 L399.16 83.18 L399.56 82.04 L399.96 80.81 L400.38 79.54 L400.79 78.27 L401.21 77.03 L401.61 75.86 L402.01 74.79 L402.4 73.87 L402.77 73.11 L403.12 72.55 L403.45 72.2 L403.76 72.07 L404.04 72.18 L404.3 72.51 L404.55 73.07 L404.76 73.84 L404.96 74.79 L405.15 75.91 L405.32 77.16 L405.48 78.51 L405.63 79.92 L405.77 81.35 L405.92 82.77 L406.08 84.14 L406.24 85.42 L406.41 86.57 L406.6 87.58 L406.81 88.41 L407.03 89.05 L407.28 89.47 L407.55 89.67 L407.84 89.65 L408.16 89.41 L408.5 88.96 L408.86 88.31 L409.25 87.48 L409.64 86.5 L410.06 85.39 L410.48 84.19 L410.91 82.93 L411.34 81.66 L411.78 80.4 L412.2 79.21 L412.62 78.1 L413.02 77.13 L413.41 76.31 L413.78 75.68 L414.12 75.26 L414.44 75.06 L414.74 75.08 L415.01 75.34 L415.25 75.83 L415.47 76.52 L415.67 77.42 L415.85 78.48 L416.01 79.69 L416.16 81.01 L416.3 82.4 L416.43 83.83 L416.56 85.26 L416.7 86.64 L416.84 87.96 L417 89.16 L417.17 90.22 L417.36 91.11 L417.58 91.81 L417.81 92.31 L418.08 92.59 L418.36 92.64 L418.68 92.48 L419.02 92.1 L419.38 91.51 L419.77 90.74 L420.18 89.81 L420.6 88.74 L421.04 87.57 L421.48 86.33 L421.93 85.06 L422.38 83.8 L422.83 82.58 L423.27 81.44 L423.69 80.42 L424.1 79.55 L424.48 78.85 L424.84 78.36 L425.18 78.08 L425.49 78.03 L425.77 78.21 L426.02 78.62 L426.24 79.25 L426.44 80.08 L426.61 81.09 L426.76 82.25 L426.9 83.53 L427.03 84.9 L427.15 86.32 L427.27 87.75 L427.39 89.16 L427.51 90.5 L427.65 91.74 L427.81 92.85 L427.98 93.8 L428.18 94.57 L428.4 95.14 L428.66 95.49 L428.93 95.63 L429.24 95.54 L429.58 95.23 L429.95 94.71 L430.34 94 L430.75 93.12 L431.18 92.1 L431.63 90.96 L432.09 89.74 L432.56 88.48 L433.03 87.21 L433.5 85.98 L433.95 84.81 L434.4 83.74 L434.83 82.82 L435.23 82.06 L435.61 81.5 L435.96 81.15 L436.28 81.02 L436.57 81.12 L436.83 81.45 L437.06 82.01 L437.26 82.77 L437.43 83.72 L437.58 84.83 L437.71 86.08 L437.82 87.42 L437.93 88.83 L438.03 90.26 L438.14 91.68 L438.24 93.04 L438.37 94.32 L438.5 95.48 L438.66 96.49 L438.84 97.32 L439.05 97.96 L439.29 98.39 L439.56 98.59 L439.86 98.58 L440.19 98.35 L440.56 97.9 L440.95 97.25 L441.37 96.43 L441.81 95.46 L442.27 94.36 L442.75 93.16 L443.23 91.91 L443.72 90.64 L444.2 89.39 L444.68 88.2 L445.15 87.1 L445.6 86.12 L446.02 85.31 L446.42 84.68 L446.79 84.25 L447.13 84.05 L447.43 84.07 L447.7 84.33 L447.93 84.81 L448.13 85.5 L448.3 86.39 L448.45 87.45 L448.57 88.65 L448.68 89.97 L448.77 91.36 L448.86 92.78 L448.95 94.21 L449.04 95.59 L449.14 96.9 L449.26 98.1 L449.4 99.17 L449.56 100.06 L449.76 100.77 L449.98 101.27 L450.24 101.55 L450.53 101.61 L450.86 101.45 L451.22 101.08 L451.61 100.5 L452.03 99.74 L452.48 98.81 L452.95 97.75 L453.44 96.59 L453.94 95.36 L454.44 94.09 L454.95 92.83 L455.45 91.61 L455.94 90.48 L456.41 89.46 L456.86 88.59 L457.28 87.89 L457.66 87.4 L458.02 87.12 L458.33 87.06 L458.61 87.24 L458.86 87.64 L459.06 88.27 L459.24 89.09 L459.38 90.1 L459.5 91.26 L459.6 92.54 L459.68 93.9 L459.75 95.32 L459.82 96.75 L459.9 98.15 L459.98 99.49 L460.08 100.73 L460.2 101.84 L460.35 102.8 L460.52 103.57 L460.73 104.14 L460.97 104.5 L461.25 104.64 L461.57 104.55 L461.93 104.25 L462.32 103.74 L462.74 103.04 L463.2 102.17 L463.68 101.15 L464.18 100.02 L464.69 98.81 L465.21 97.55 L465.74 96.29 L466.26 95.05 L466.77 93.89 L467.26 92.83 L467.73 91.9 L468.17 91.15 L468.58 90.58 L468.95 90.23 L469.29 90.1 L469.58 90.2 L469.84 90.52 L470.05 91.07 L470.23 91.83 L470.37 92.78 L470.49 93.89 L470.58 95.13 L470.65 96.47 L470.71 97.87 L470.76 99.3 L470.82 100.71 L470.89 102.08 L470.96 103.36 L471.06 104.51 L471.19 105.52 L471.35 106.36 L471.54 107 L471.77 107.43 L472.03 107.65 L472.34 107.64 L472.69 107.41 L473.08 106.97 L473.5 106.33 L473.96 105.52 L474.45 104.55 L474.96 103.46 L475.48 102.27 L476.02 101.02 L476.57 99.76 L477.11 98.51 L477.64 97.32 L478.16 96.22"/>
<path d="M332.64 29.73 L332.89 31.15 L333.13 32.81 L333.37 34.63 L333.6 36.52 L333.83 38.4 L334.07 40.17 L334.31 41.74 L334.55 43.06 L334.8 44.05 L335.06 44.67 L335.32 44.9 L335.6 44.73 L335.88 44.16 L336.17 43.24 L336.47 42.01 L336.78 40.53 L337.09 38.87 L337.41 37.13 L337.72 35.4 L338.04 33.75 L338.35 32.29 L338.66 31.09 L338.96 30.22 L339.24 29.73 L339.52 29.64 L339.79 29.97 L340.05 30.7 L340.29 31.79 L340.53 33.2 L340.76 34.86 L340.98 36.68 L341.2 38.57 L341.42 40.45 L341.64 42.22 L341.87 43.8 L342.11 45.11 L342.35 46.11 L342.6 46.73 L342.87 46.96 L343.14 46.79 L343.43 46.23 L343.74 45.31 L344.05 44.08 L344.37 42.6 L344.7 40.95 L345.03 39.21 L345.36 37.47 L345.69 35.83 L346.01 34.37 L346.33 33.17 L346.64 32.3 L346.93 31.8 L347.21 31.71 L347.48 32.04 L347.73 32.76 L347.97 33.86 L348.2 35.27 L348.42 36.92 L348.63 38.74 L348.83 40.63 L349.04 42.51 L349.25 44.28 L349.46 45.86 L349.69 47.18 L349.92 48.17 L350.17 48.8 L350.44 49.03 L350.72 48.86 L351.01 48.3 L351.32 47.39 L351.65 46.16 L351.98 44.68 L352.33 43.03 L352.67 41.29 L353.02 39.55 L353.37 37.91 L353.71 36.45 L354.03 35.25 L354.35 34.38 L354.65 33.88 L354.93 33.79 L355.2 34.11 L355.45 34.84 L355.68 35.93 L355.89 37.34 L356.1 38.99 L356.3 40.81 L356.49 42.7 L356.68 44.58 L356.88 46.35 L357.08 47.93 L357.3 49.25 L357.52 50.24 L357.77 50.87 L358.04 51.1 L358.32 50.94 L358.62 50.38 L358.94 49.47 L359.28 48.24 L359.62 46.77 L359.98 45.12 L360.34 43.38 L360.71 41.64 L361.07 40 L361.42 38.54 L361.76 37.34 L362.09 36.47 L362.39 35.97 L362.68 35.87 L362.94 36.2 L363.19 36.92 L363.41 38.01 L363.62 39.42 L363.81 41.07 L363.99 42.89 L364.17 44.78 L364.35 46.65 L364.53 48.42 L364.73 50 L364.93 51.32 L365.15 52.32 L365.4 52.95 L365.66 53.19 L365.95 53.02 L366.25 52.47 L366.58 51.56 L366.93 50.33 L367.29 48.86 L367.66 47.21 L368.04 45.48 L368.42 43.74 L368.8 42.1 L369.17 40.64 L369.52 39.44 L369.85 38.56 L370.16 38.06 L370.45 37.97 L370.72 38.29 L370.95 39.01 L371.17 40.1 L371.37 41.5 L371.55 43.15 L371.72 44.97 L371.88 46.86 L372.05 48.74 L372.22 50.51 L372.4 52.09 L372.59 53.41 L372.81 54.4 L373.05 55.04 L373.31 55.28 L373.6 55.11 L373.91 54.56 L374.25 53.65 L374.61 52.43 L374.99 50.96 L375.37 49.31 L375.77 47.58 L376.17 45.85 L376.56 44.21 L376.94 42.74 L377.3 41.54 L377.64 40.67 L377.96 40.16 L378.25 40.07 L378.52 40.39 L378.75 41.11 L378.96 42.2 L379.15 43.6 L379.31 45.25 L379.47 47.06 L379.62 48.95 L379.77 50.82 L379.93 52.59 L380.09 54.18 L380.28 55.5 L380.49 56.5 L380.72 57.13 L380.99 57.37 L381.28 57.21 L381.6 56.66 L381.95 55.76 L382.32 54.54 L382.71 53.07 L383.11 51.42 L383.52 49.69 L383.94 47.96 L384.34 46.32 L384.74 44.86 L385.11 43.66 L385.46 42.78 L385.79 42.27 L386.08 42.18 L386.34 42.49 L386.57 43.21 L386.78 44.3 L386.95 45.7 L387.11 47.35 L387.25 49.16 L387.39 51.05 L387.52 52.92 L387.66 54.69 L387.82 56.27 L388 57.6 L388.2 58.6 L388.43 59.23 L388.69 59.48 L388.99 59.32 L389.31 58.77 L389.67 57.87 L390.05 56.65 L390.46 55.18 L390.87 53.54 L391.3 51.81 L391.73 50.08 L392.15 48.44 L392.56 46.98 L392.95 45.77 L393.31 44.9 L393.64 44.39 L393.94 44.29 L394.2 44.61 L394.43 45.32 L394.62 46.41 L394.79 47.81 L394.93 49.45 L395.06 51.26 L395.18 53.15 L395.3 55.03 L395.43 56.8 L395.57 58.38 L395.74 59.7 L395.93 60.71 L396.16 61.34 L396.42 61.59 L396.72 61.43 L397.05 60.89 L397.42 59.99 L397.81 58.77 L398.23 57.31 L398.67 55.67 L399.11 53.94 L399.56 52.21 L399.99 50.57 L400.42 49.11 L400.82 47.9 L401.19 47.02 L401.52 46.52 L401.82 46.42 L402.08 46.73 L402.31 47.44 L402.49 48.53 L402.65 49.92 L402.78 51.57 L402.89 53.38 L403 55.26 L403.11 57.14 L403.22 58.91 L403.35 60.49 L403.51 61.82 L403.7 62.82 L403.92 63.46 L404.18 63.71 L404.48 63.55 L404.82 63.01 L405.19 62.11 L405.6 60.9 L406.03 59.44 L406.48 57.8 L406.95 56.07 L407.41 54.34 L407.86 52.7 L408.3 51.24 L408.71 50.04 L409.09 49.16 L409.44 48.65 L409.74 48.55 L410 48.86 L410.21 49.57 L410.39 50.65 L410.54 52.05 L410.66 53.69 L410.76 55.5 L410.85 57.38 L410.94 59.26 L411.04 61.03 L411.16 62.61 L411.31 63.94 L411.49 64.94 L411.71 65.58 L411.97 65.83 L412.27 65.68 L412.61 65.14 L413 64.25 L413.42 63.04 L413.86 61.58 L414.33 59.94 L414.81 58.21 L415.29 56.48 L415.76 54.85 L416.21 53.38 L416.63 52.18 L417.02 51.3 L417.37 50.79 L417.68 50.69 L417.94 51 L418.15 51.71 L418.32 52.78 L418.46 54.18 L418.56 55.82 L418.65 57.63 L418.72 59.51 L418.8 61.38 L418.89 63.16 L419 64.74 L419.13 66.07 L419.31 67.07 L419.52 67.71 L419.78 67.97 L420.08 67.82 L420.44 67.28 L420.83 66.39 L421.26 65.18 L421.72 63.72 L422.2 62.09 L422.7 60.36 L423.2 58.63 L423.68 57 L424.15 55.53 L424.59 54.33 L424.99 53.45 L425.34 52.94 L425.65 52.83 L425.9 53.14 L426.11 53.85 L426.28 54.93 L426.4 56.32 L426.5 57.96 L426.57 59.76 L426.63 61.65 L426.69 63.52 L426.76 65.29 L426.86 66.88 L426.99 68.2 L427.15 69.21 L427.36 69.85 L427.62 70.11 L427.93 69.96 L428.29 69.43 L428.69 68.54 L429.13 67.33 L429.61 65.87 L430.11 64.24 L430.62 62.52 L431.13 60.79 L431.63 59.15 L432.12 57.69 L432.57 56.49 L432.97 55.6 L433.34 55.09 L433.65 54.99 L433.9 55.29 L434.11 56 L434.26 57.07 L434.38 58.46 L434.46 60.1 L434.52 61.91 L434.56 63.79 L434.61 65.66 L434.67 67.43 L434.75 69.02 L434.87 70.35 L435.02 71.35 L435.23 72 L435.49 72.26 L435.8 72.11 L436.16 71.58 L436.57 70.69 L437.03 69.49 L437.52 68.03 L438.04 66.4 L438.56 64.68 L439.09 62.96 L439.61 61.32 L440.11 59.86 L440.57 58.65 L440.99 57.77 L441.36 57.26 L441.67 57.15 L441.93 57.45 L442.13 58.16 L442.28 59.23 L442.38 60.62 L442.45 62.25 L442.49 64.06 L442.52 65.94 L442.56 67.81 L442.6 69.58 L442.67 71.17 L442.78 72.5 L442.93 73.51 L443.13 74.16 L443.38 74.41 L443.7 74.27 L444.07 73.74 L444.49 72.86 L444.96 71.66 L445.46 70.2 L445.99 68.57 L446.54 66.85 L447.09 65.13 L447.62 63.49 L448.13 62.03 L448.61 60.83 L449.04 59.94 L449.41 59.43 L449.73 59.32 L449.98 59.62 L450.18 60.32 L450.32 61.39 L450.41 62.78 L450.47 64.41 L450.5 66.22 L450.51 68.1 L450.53 69.97 L450.56 71.74 L450.62 73.33 L450.71 74.66 L450.86 75.67 L451.05 76.32 L451.31 76.58 L451.62 76.44 L452 75.91 L452.43 75.03 L452.91 73.83 L453.43 72.38 L453.98 70.75 L454.54 69.03 L455.11 67.31 L455.66 65.67 L456.19 64.21 L456.68 63.01 L457.11 62.12 L457.5 61.61 L457.81 61.5 L458.07 61.8 L458.26 62.5 L458.39 63.57 L458.48 64.95 L458.52 66.58 L458.53 68.38 L458.53 70.26 L458.53 72.13 L458.55 73.91 L458.59 75.49 L458.68 76.82 L458.81 77.84 L459.01 78.49 L459.26 78.75 L459.58 78.61 L459.96 78.09 L460.4 77.21 L460.89 76.01 L461.43 74.56 L461.99 72.94 L462.57 71.22 L463.16 69.5 L463.73 67.86 L464.27 66.4 L464.77 65.2 L465.22 64.31 L465.61 63.79 L465.93 63.68 L466.18 63.98 L466.37 64.68 L466.5 65.75 L466.57 67.13 L466.6 68.76 L466.6 70.56 L466.58 72.44 L466.57 74.31 L466.57 76.08 L466.6 77.67 L466.67 79 L466.8 80.01 L466.99 80.66 L467.24 80.93 L467.56 80.79 L467.95 80.27 L468.4 79.39 L468.91 78.2 L469.46 76.75 L470.04 75.13 L470.63 73.42 L471.24 71.7 L471.82 70.06 L472.38 68.6 L472.89 67.39 L473.35 66.51 L473.75 65.99 L474.07 65.87 L474.33 66.17 L474.51 66.87 L474.63 67.93 L474.69 69.31 L474.7 70.94 L474.69 72.74 L474.66 74.62 L474.63 76.49 L474.61 78.26 L474.63 79.85 L474.7 81.18 L474.81 82.19 L475 82.85 L475.25 83.12 L475.57 82.98 L475.97 82.47 L476.43 81.59 L476.95 80.4 L477.51 78.95 L478.11 77.33 L478.72 75.62 L479.34 73.9 L479.95 72.27 L480.52 70.81 L481.05 69.6 L481.52 68.71 L481.92 68.19 L482.25 68.08 L482.5 68.37 L482.68 69.07 L482.79 70.13 L482.84 71.51 L482.84 73.14 L482.81 74.93 L482.76 76.81 L482.72 78.68 L482.69 80.45 L482.69 82.04 L482.75 83.37 L482.86 84.39 L483.04 85.04 L483.29 85.31 L483.61 85.18 L484.02 84.67 L484.49 83.79 L485.02 82.6 L485.59 81.16 L486.21 79.54 L486.84 77.83 L487.48 76.11 L488.1 74.48 L488.69 73.02 L489.23 71.81 L489.71 70.92 L490.12 70.4 L490.45 70.28 L490.7 70.58 L490.88 71.27 L490.98 72.33 L491.02 73.71 L491.01 75.34 L490.96 77.13 L490.9 79.01 L490.84 80.88 L490.8 82.64 L490.79 84.23 L490.83 85.57 L490.93 86.59 L491.1 87.24 L491.35 87.51 L491.68 87.39 L492.09 86.87 L492.57 86 L493.11 84.81 L493.71 83.38 L494.34 81.76 L494.99 80.05 L495.64 78.33 L496.28 76.7 L496.89 75.24 L497.44 74.03 L497.93 73.14 L498.35 72.62 L498.68 72.5 L498.94 72.79 L499.1 73.48 L499.2 74.54 L499.23 75.92 L499.2 77.54 L499.14 79.34 L499.07 81.21 L498.99 83.08 L498.93 84.85 L498.91 86.44 L498.94 87.77 L499.03 88.79 L499.2 89.45 L499.45 89.72 L499.78 89.6 L500.2 89.09 L500.68 88.22 L501.24 87.04 L501.85 85.6 L502.5 83.99 L503.17 82.28 L503.84 80.56 L504.5 78.93 L505.12 77.47 L505.68 76.26 L506.19 75.37 L506.61 74.85 L506.95 74.73 L507.2 75.02 L507.36 75.71 L507.45 76.76 L507.47 78.14 L507.43 79.76 L507.35 81.55 L507.26 83.43 L507.17 85.29 L507.09 87.06 L507.06 88.65 L507.08 89.99 L507.16 91.01 L507.33 91.67 L507.57 91.94 L507.91 91.82 L508.33 91.31 L508.83 90.44 L509.4 89.26 L510.02 87.83 L510.69 86.22 L511.37 84.51 L512.06 82.8 L512.74 81.17 L513.37 79.71 L513.96 78.5 L514.47 77.61 L514.9 77.08 L515.24 76.96 L515.49 77.25 L515.65 77.94 L515.73 78.99 L515.74 80.36 L515.69 81.98 L515.6 83.77 L515.49 85.65 L515.38 87.51 L515.29 89.28 L515.24 90.87 L515.24 92.21 L515.32 93.23 L515.48 93.89 L515.73 94.17 L516.07 94.05 L516.49 93.54 L517 92.68 L517.58 91.5 L518.22 90.07 L518.9 88.46 L519.61 86.75 L520.32 85.04 L521.01 83.41 L521.66 81.95 L522.26 80.74 L522.78 79.85 L523.22 79.33 L523.57 79.2 L523.82 79.49 L523.97 80.17 L524.04 81.23 L524.04 82.6 L523.97 84.22 L523.87 86.01 L523.74 87.88 L523.61 89.74 L523.51 91.51 L523.45 93.1 L523.44 94.44 L523.51 95.46 L523.67 96.13 L523.91 96.4 L524.25 96.29 L524.68 95.78 L525.2 94.92 L525.8 93.75 L526.45 92.32 L527.15 90.71 L527.88 89 L528.6 87.29 L529.31 85.67 L529.98 84.21 L530.59 83 L531.13 82.11 L531.57 81.58 L531.92 81.45 L532.17 81.74 L532.32 82.42"/>
</g>
<g fill="none" stroke="#000" stroke-width="1.08" stroke-linecap="square">
<polyline points="79.66,120.25 292.73,185.97 551,130.4 570.69,60.03"/>
<polyline points="88.34,125.08 94.71,123.81"/>
<polyline points="117.03,133.95 123.42,132.66"/>
<polyline points="146.13,142.94 152.54,141.64"/>
<polyline points="175.65,152.06 182.06,150.74"/>
<polyline points="205.58,161.31 212.01,159.97"/>
<polyline points="235.94,170.69 242.39,169.33"/>
<polyline points="266.75,180.21 273.21,178.83"/>
<polyline points="329.71,179.89 324.32,178.25"/>
<polyline points="383.37,168.33 377.95,166.71"/>
<polyline points="436.09,156.97 430.66,155.38"/>
<polyline points="487.91,145.8 482.47,144.24"/>
<polyline points="538.86,134.82 533.39,133.29"/>
<polyline points="555.1,129.82 549.63,128.3"/>
<polyline points="557.21,122.41 551.68,120.88"/>
<polyline points="559.36,114.87 553.78,113.33"/>
<polyline points="561.54,107.19 555.91,105.65"/>
<polyline points="563.76,99.37 558.08,97.83"/>
<polyline points="566.02,91.41 560.29,89.87"/>
<polyline points="568.33,83.31 562.53,81.76"/>
<polyline points="570.67,75.06 564.82,73.5"/>
<polyline points="573.07,66.65 567.16,65.09"/>
</g>
<path d="M99.45 79.25 L100.67 83.3 L101.96 87.68 L103.3 92.25 L104.65 96.87 L105.97 101.4 L107.23 105.69 L108.4 109.62 L109.46 113.07 L110.38 115.95 L111.15 118.18 L111.75 119.71 L112.18 120.5 L112.42 120.56 L112.5 119.88 L112.41 118.5 L112.18 116.47 L111.8 113.87 L111.32 110.78 L110.74 107.29 L110.1 103.52 L109.42 99.57 L108.73 95.56 L108.05 91.59 L107.4 87.77 L106.81 84.18 L106.3 80.9 L105.87 77.97 L105.53 75.42 L105.28 73.28 L105.13 71.52 L105.06 70.11 L105.06 69.02 L105.12 68.18 L105.22 67.53 L105.35 67.01 L105.5 66.54 L105.65 66.07 L105.78 65.55 L105.9 64.95 L105.99 64.23 L106.05 63.39 L106.09 62.43 L106.11 61.39 L106.11 60.3 L106.12 59.21 L106.14 58.17 L106.19 57.25 L106.28 56.51 L106.43 56.02 L106.64 55.82 L106.94 55.97 L107.31 56.5 L107.78 57.41 L108.33 58.71 L108.96 60.38 L109.66 62.37 L110.42 64.64 L111.23 67.12 L112.07 69.74 L112.93 72.42 L113.77 75.08 L114.6 77.65 L115.38 80.05 L116.12 82.23 L116.79 84.14 L117.4 85.75 L117.93 87.03 L118.4 88 L118.79 88.65 L119.13 89.03 L119.41 89.17 L119.65 89.13 L119.86 88.96 L120.06 88.73 L120.27 88.52 L120.49 88.37 L120.73 88.36 L121.02 88.52 L121.35 88.89 L121.73 89.48 L122.16 90.31 L122.64 91.34 L123.15 92.55 L123.69 93.89 L124.24 95.3 L124.8 96.71 L125.33 98.04 L125.83 99.21 L126.28 100.15 L126.67 100.8 L126.98 101.09 L127.21 100.99 L127.35 100.47 L127.39 99.51 L127.35 98.13 L127.22 96.37 L127.02 94.27 L126.77 91.9 L126.49 89.37 L126.19 86.77 L125.91 84.22 L125.66 81.85 L125.48 79.77 L125.39 78.12 L125.41 76.99 L125.56 76.49 L125.85 76.67 L126.3 77.57 L126.89 79.21 L127.64 81.55 L128.52 84.55 L129.52 88.11 L130.61 92.14 L131.77 96.51 L132.96 101.06 L134.17 105.68 L135.35 110.19 L136.48 114.48 L137.54 118.4 L138.49 121.85 L139.33 124.74 L140.03 126.97 L140.59 128.51 L141 129.32 L141.26 129.39 L141.37 128.73 L141.33 127.37 L141.17 125.36 L140.89 122.78 L140.51 119.71 L140.05 116.24 L139.54 112.49 L139 108.55 L138.44 104.56 L137.89 100.6 L137.38 96.79 L136.91 93.2 L136.51 89.92 L136.17 87 L135.92 84.45 L135.75 82.31 L135.66 80.55 L135.64 79.14 L135.68 78.05 L135.77 77.21 L135.9 76.56 L136.06 76.03 L136.22 75.57 L136.39 75.1 L136.55 74.59 L136.69 73.99 L136.82 73.27 L136.91 72.44 L136.99 71.49 L137.05 70.46 L137.1 69.37 L137.15 68.28 L137.21 67.24 L137.29 66.32 L137.41 65.58 L137.58 65.09 L137.81 64.89 L138.1 65.04 L138.47 65.55 L138.91 66.46 L139.42 67.75 L140 69.41 L140.65 71.39 L141.34 73.65 L142.08 76.12 L142.84 78.73 L143.61 81.41 L144.38 84.06 L145.12 86.63 L145.84 89.03 L146.51 91.21 L147.13 93.12 L147.69 94.73 L148.19 96.02 L148.63 96.99 L149.01 97.65 L149.34 98.03 L149.63 98.18 L149.88 98.14 L150.1 97.97 L150.32 97.75 L150.53 97.54 L150.77 97.39 L151.02 97.37 L151.31 97.53 L151.63 97.9 L152 98.49 L152.41 99.31 L152.85 100.34 L153.33 101.54 L153.83 102.88 L154.35 104.28 L154.86 105.69 L155.36 107.01 L155.83 108.19 L156.26 109.14 L156.63 109.79 L156.94 110.09 L157.18 110 L157.34 109.48 L157.42 108.54 L157.43 107.18 L157.37 105.43 L157.25 103.34 L157.09 100.99 L156.9 98.47 L156.69 95.87 L156.5 93.33 L156.33 90.96 L156.22 88.89 L156.19 87.23 L156.25 86.1 L156.42 85.58 L156.72 85.75 L157.14 86.64 L157.69 88.26 L158.36 90.58 L159.14 93.56 L160.03 97.11 L160.99 101.12 L162.01 105.47 L163.06 110.01 L164.12 114.61 L165.16 119.11 L166.16 123.39 L167.09 127.31 L167.94 130.76 L168.69 133.65 L169.33 135.89 L169.84 137.44 L170.23 138.26 L170.5 138.35 L170.64 137.7 L170.66 136.36 L170.57 134.38 L170.38 131.82 L170.11 128.77 L169.78 125.32 L169.4 121.58 L168.99 117.67 L168.57 113.68 L168.17 109.74 L167.78 105.93 L167.44 102.36 L167.15 99.08 L166.93 96.16 L166.76 93.62 L166.67 91.47 L166.64 89.71 L166.67 88.3 L166.75 87.21 L166.88 86.37 L167.04 85.72 L167.22 85.2 L167.41 84.73 L167.6 84.27 L167.79 83.76 L167.95 83.16 L168.11 82.45 L168.24 81.63 L168.35 80.69 L168.46 79.66 L168.55 78.57 L168.64 77.49 L168.74 76.45 L168.87 75.53 L169.02 74.8 L169.21 74.3 L169.45 74.1 L169.74 74.23 L170.09 74.74 L170.51 75.64 L170.98 76.92 L171.52 78.57 L172.1 80.54 L172.73 82.8 L173.39 85.26 L174.07 87.86 L174.76 90.53 L175.44 93.18 L176.11 95.74 L176.75 98.14 L177.36 100.32 L177.92 102.23 L178.43 103.84 L178.9 105.14 L179.31 106.11 L179.68 106.78 L180 107.16 L180.29 107.32 L180.55 107.28 L180.79 107.12 L181.02 106.9 L181.25 106.69 L181.49 106.54 L181.75 106.52 L182.04 106.68 L182.36 107.04 L182.71 107.63 L183.1 108.44 L183.51 109.46 L183.96 110.66 L184.42 112 L184.89 113.4 L185.37 114.8 L185.83 116.12 L186.26 117.3 L186.67 118.25 L187.03 118.91 L187.33 119.22 L187.58 119.14 L187.77 118.63 L187.89 117.7 L187.96 116.35 L187.97 114.61 L187.93 112.54 L187.85 110.21 L187.75 107.69 L187.64 105.11 L187.53 102.58 L187.46 100.21 L187.43 98.14 L187.46 96.48 L187.56 95.34 L187.76 94.82 L188.05 94.97 L188.44 95.84 L188.94 97.44 L189.54 99.75 L190.23 102.71 L191 106.24 L191.83 110.23 L192.71 114.56 L193.61 119.09 L194.52 123.67 L195.41 128.17 L196.27 132.44 L197.07 136.35 L197.81 139.8 L198.47 142.69 L199.04 144.94 L199.51 146.5 L199.88 147.33 L200.15 147.43 L200.32 146.8 L200.39 145.48 L200.38 143.52 L200.29 140.98 L200.14 137.95 L199.93 134.52 L199.68 130.81 L199.42 126.91 L199.14 122.94 L198.88 119.01 L198.63 115.22 L198.42 111.65 L198.25 108.38 L198.13 105.46 L198.06 102.92 L198.05 100.77 L198.09 99.01 L198.17 97.6 L198.3 96.51 L198.46 95.67 L198.65 95.02 L198.85 94.5 L199.07 94.04 L199.28 93.58 L199.49 93.07 L199.69 92.48 L199.87 91.77 L200.04 90.95 L200.19 90.02 L200.34 88.99 L200.48 87.92 L200.61 86.83 L200.76 85.8 L200.92 84.89 L201.1 84.15 L201.32 83.65 L201.57 83.44 L201.87 83.57 L202.21 84.08 L202.6 84.97 L203.04 86.24 L203.52 87.88 L204.04 89.84 L204.6 92.08 L205.18 94.54 L205.77 97.13 L206.37 99.79 L206.97 102.44 L207.56 104.99 L208.13 107.39 L208.66 109.57 L209.17 111.48 L209.64 113.09 L210.06 114.39 L210.45 115.37 L210.8 116.04 L211.12 116.43 L211.41 116.59 L211.67 116.56 L211.93 116.4 L212.17 116.19 L212.42 115.97 L212.67 115.83 L212.94 115.81 L213.23 115.96 L213.54 116.32 L213.88 116.9 L214.24 117.71 L214.63 118.73 L215.04 119.92 L215.46 121.25 L215.89 122.64 L216.32 124.04 L216.74 125.37 L217.15 126.54 L217.52 127.5 L217.87 128.16 L218.17 128.48 L218.43 128.41 L218.64 127.92 L218.81 127 L218.93 125.66 L219.01 123.94 L219.05 121.88 L219.06 119.56 L219.05 117.06 L219.04 114.49 L219.03 111.96 L219.05 109.6 L219.1 107.53 L219.19 105.87 L219.34 104.72 L219.56 104.19 L219.85 104.33 L220.22 105.19 L220.67 106.77 L221.19 109.06 L221.78 112 L222.43 115.51 L223.13 119.48 L223.86 123.79 L224.61 128.3 L225.36 132.87 L226.1 137.35 L226.82 141.61 L227.49 145.52 L228.12 148.97 L228.68 151.86 L229.18 154.12 L229.6 155.68 L229.95 156.53 L230.22 156.64 L230.42 156.03 L230.55 154.73 L230.62 152.79 L230.63 150.27 L230.59 147.26 L230.51 143.86 L230.4 140.16 L230.28 136.28 L230.16 132.33 L230.04 128.41 L229.94 124.63 L229.86 121.07 L229.81 117.81 L229.8 114.89 L229.83 112.36 L229.9 110.21 L230 108.45 L230.15 107.04 L230.32 105.95 L230.52 105.1 L230.74 104.46 L230.97 103.94 L231.21 103.48 L231.44 103.02 L231.68 102.52 L231.9 101.94 L232.12 101.24 L232.33 100.42 L232.52 99.49 L232.71 98.48 L232.89 97.4 L233.08 96.33 L233.27 95.3 L233.47 94.38 L233.69 93.64 L233.92 93.14 L234.19 92.93 L234.49 93.06 L234.82 93.55 L235.18 94.43 L235.58 95.7 L236.01 97.32 L236.47 99.28 L236.95 101.51 L237.45 103.95 L237.96 106.54 L238.48 109.19 L238.99 111.83 L239.49 114.38 L239.98 116.78 L240.45 118.95 L240.89 120.87 L241.3 122.48 L241.69 123.78 L242.05 124.77 L242.39 125.44 L242.7 125.84 L242.99 126 L243.26 125.98 L243.53 125.82 L243.79 125.61 L244.05 125.4 L244.31 125.26 L244.59 125.23 L244.88 125.38 L245.19 125.74 L245.51 126.31 L245.85 127.12 L246.21 128.13 L246.58 129.32 L246.97 130.64 L247.35 132.03 L247.74 133.43 L248.12 134.75 L248.49 135.93 L248.84 136.88 L249.17 137.55 L249.47 137.88 L249.74 137.81 L249.97 137.33 L250.18 136.43 L250.36 135.11 L250.5 133.4 L250.63 131.36 L250.73 129.05 L250.82 126.56 L250.91 124 L251.01 121.48 L251.11 119.13 L251.24 117.06 L251.4 115.4 L251.6 114.25 L251.85 113.7 L252.14 113.83 L252.49 114.67 L252.88 116.24 L253.33 118.51 L253.82 121.43 L254.35 124.92 L254.9 128.87 L255.48 133.16 L256.08 137.65 L256.67 142.2 L257.25 146.67 L257.82 150.93 L258.36 154.83 L258.86 158.27 L259.33 161.16 L259.75 163.43 L260.13 165 L260.45 165.86 L260.73 165.99 L260.96 165.4 L261.14 164.11 L261.29 162.19 L261.4 159.7 L261.47 156.71 L261.53 153.33 L261.57 149.65 L261.6 145.79 L261.63 141.86 L261.66 137.96 L261.7 134.19 L261.76 130.64 L261.84 127.38 L261.94 124.47 L262.07 121.94 L262.23 119.79 L262.41 118.03 L262.61 116.62 L262.83 115.53 L263.07 114.69 L263.32 114.04 L263.57 113.52 L263.84 113.07 L264.1 112.62 L264.36 112.12 L264.61 111.54 L264.86 110.85 L265.11 110.04 L265.34 109.12 L265.58 108.1 L265.81 107.04 L266.04 105.96 L266.28 104.94 L266.52 104.03 L266.77 103.29 L267.04 102.78 L267.32 102.57 L267.62 102.69 L267.94 103.18 L268.28 104.05 L268.64 105.3 L269.01 106.92 L269.41 108.86 L269.81 111.08 L270.23 113.52 L270.65 116.1 L271.07 118.74 L271.5 121.37 L271.91 123.92 L272.32 126.31 L272.71 128.48 L273.09 130.4 L273.45 132.02 L273.8 133.32 L274.13 134.3 L274.45 134.99 L274.75 135.39 L275.05 135.56 L275.33 135.53 L275.61 135.39 L275.88 135.18 L276.16 134.97 L276.44 134.82 L276.72 134.8 L277.01 134.95 L277.31 135.3 L277.62 135.87 L277.94 136.66 L278.27 137.67 L278.61 138.85 L278.95 140.17 L279.29 141.56 L279.63 142.95 L279.97 144.27 L280.3 145.45 L280.62 146.41 L280.93 147.08 L281.23 147.41 L281.51 147.36 L281.77 146.89 L282.02 146 L282.25 144.69 L282.47 143 L282.68 140.98 L282.88 138.68 L283.07 136.21 L283.26 133.66 L283.46 131.15 L283.66 128.8 L283.88 126.74 L284.11 125.07 L284.36 123.92 L284.63 123.36 L284.93 123.48 L285.25 124.31 L285.59 125.86 L285.96 128.11 L286.35 131 L286.75 134.47 L287.17 138.4 L287.59 142.67 L288.02 147.14 L288.45 151.68 L288.87 156.14 L289.28 160.38 L289.68 164.27 L290.06 167.71 L290.43 170.6 L290.77 172.87 L291.09 174.45 L291.39 175.32 L291.67 175.47 L291.93 174.89 L292.17 173.63 L292.4 171.73 L292.61 169.26 L292.81 166.3 L293 162.94 L293.19 159.28 L293.37 155.44 L293.56 151.53 L293.74 147.64 L293.94 143.89 L294.14 140.35 L294.35 137.1 L294.57 134.19" fill="none" stroke="#f00" stroke-width="2.05" stroke-linejoin="round"/>
<circle cx="174.48" cy="82.71" r="2.35" fill="#000"/>
<circle cx="225.88" cy="50.63" r="2.35" fill="#000"/>
<circle cx="279.72" cy="40.36" r="2.35" fill="#000"/>
<circle cx="332.64" cy="29.73" r="2.35" fill="#000"/>
<text x="76.09" y="140.96" text-anchor="middle" font-size="11.81" fill="#000" >0.00</text>
<text x="104.79" y="149.82" text-anchor="middle" font-size="11.81" fill="#000" >0.01</text>
<text x="133.9" y="158.8" text-anchor="middle" font-size="11.81" fill="#000" >0.02</text>
<text x="163.43" y="167.9" text-anchor="middle" font-size="11.81" fill="#000" >0.03</text>
<text x="193.37" y="177.14" text-anchor="middle" font-size="11.81" fill="#000" >0.04</text>
<text x="223.74" y="186.51" text-anchor="middle" font-size="11.81" fill="#000" >0.05</text>
<text x="254.55" y="196.01" text-anchor="middle" font-size="11.81" fill="#000" >0.06</text>
<text x="339.41" y="195.62" text-anchor="middle" font-size="11.81" fill="#000" >0</text>
<text x="393.06" y="184.08" text-anchor="middle" font-size="11.81" fill="#000" >100</text>
<text x="445.77" y="172.53" text-anchor="middle" font-size="11.81" fill="#000" >200</text>
<text x="497.58" y="161.39" text-anchor="middle" font-size="11.81" fill="#000" >300</text>
<text x="548.51" y="150.33" text-anchor="middle" font-size="11.81" fill="#000" >400</text>
<text x="582.45" y="138.43" text-anchor="middle" font-size="11.81" fill="#000" >-5</text>
<text x="584.53" y="131.02" text-anchor="middle" font-size="11.81" fill="#000" >-4</text>
<text x="586.64" y="123.47" text-anchor="middle" font-size="11.81" fill="#000" >-3</text>
<text x="588.78" y="115.79" text-anchor="middle" font-size="11.81" fill="#000" >-2</text>
<text x="590.97" y="107.97" text-anchor="middle" font-size="11.81" fill="#000" >-1</text>
<text x="595.2" y="100.01" text-anchor="middle" font-size="11.81" fill="#000" >0</text>
<text x="597.46" y="91.9" text-anchor="middle" font-size="11.81" fill="#000" >1</text>
<text x="599.77" y="83.65" text-anchor="middle" font-size="11.81" fill="#000" >2</text>
<text x="602.13" y="75.24" text-anchor="middle" font-size="11.81" fill="#000" >3</text>
<text x="146.8" y="171.93" text-anchor="middle" font-size="11.81" transform="rotate(17.1 146.8 171.93)" fill="#000" >Time [s]</text>
<text x="455.3" y="179.63" text-anchor="middle" font-size="11.81" transform="rotate(-12.2 455.3 179.63)" fill="#000" >Frequency [Hz]</text>
<text x="633.1" y="100.63" text-anchor="middle" font-size="11.81" transform="rotate(-74 633.1 100.63)" fill="#000" letter-spacing="0.3"><tspan font-style="italic">Acc.</tspan> [<tspan font-style="italic">m/s</tspan><tspan font-size="8.26" dy="-4.25">2</tspan><tspan dy="4.25">]</tspan></text>
</g>
<rect x="3.1" y="3.8" width="126.14" height="37.94" rx="2.36" fill="#fff" fill-opacity="0.8" stroke="#ccc" stroke-opacity="0.8" stroke-width="1.18"/>
<line x1="7.32" y1="13.32" x2="31.93" y2="13.32" stroke="#f00" stroke-width="2.36"/>
<text x="42.38" y="17.21" font-size="11.81" fill="#000" font-family="'Liberation Sans','Noto Sans CJK SC',sans-serif">各频率信号叠加</text>
<line x1="7.32" y1="30.82" x2="31.93" y2="30.82" stroke="#1f77b4" stroke-width="1.18"/>
<text x="42.38" y="34.71" font-size="11.81" fill="#000" font-family="'Liberation Sans','Noto Sans CJK SC',sans-serif">各频率信号</text>
<g id="axbl">
<clipPath id="cbl"><rect x="65.9" y="212.5" width="274.6" height="171.6"/></clipPath>
<path d="M65.9 280.61 L66.24 288.47 L66.59 297.01 L66.93 306.03 L67.27 315.32 L67.62 324.65 L67.96 333.78 L68.31 342.5 L68.65 350.59 L68.99 357.84 L69.34 364.08 L69.68 369.16 L70.02 372.96 L70.37 375.4 L70.71 376.43 L71.06 376.04 L71.4 374.26 L71.74 371.16 L72.09 366.83 L72.43 361.4 L72.77 355.02 L73.12 347.86 L73.46 340.09 L73.8 331.92 L74.15 323.52 L74.49 315.07 L74.84 306.76 L75.18 298.74 L75.52 291.14 L75.87 284.07 L76.21 277.62 L76.55 271.84 L76.9 266.77 L77.24 262.4 L77.59 258.71 L77.93 255.65 L78.27 253.16 L78.62 251.15 L78.96 249.52 L79.3 248.19 L79.65 247.05 L79.99 246 L80.33 244.95 L80.68 243.84 L81.02 242.59 L81.37 241.18 L81.71 239.56 L82.05 237.75 L82.4 235.77 L82.74 233.64 L83.08 231.42 L83.43 229.19 L83.77 227.03 L84.12 225.02 L84.46 223.26 L84.8 221.83 L85.15 220.82 L85.49 220.31 L85.83 220.37 L86.18 221.03 L86.52 222.32 L86.86 224.26 L87.21 226.83 L87.55 230 L87.9 233.7 L88.24 237.87 L88.58 242.42 L88.93 247.25 L89.27 252.24 L89.61 257.27 L89.96 262.25 L90.3 267.04 L90.64 271.55 L90.99 275.68 L91.33 279.36 L91.68 282.54 L92.02 285.16 L92.36 287.23 L92.71 288.74 L93.05 289.73 L93.39 290.25 L93.74 290.35 L94.08 290.13 L94.43 289.68 L94.77 289.09 L95.11 288.47 L95.46 287.92 L95.8 287.53 L96.14 287.39 L96.49 287.57 L96.83 288.12 L97.17 289.06 L97.52 290.41 L97.86 292.14 L98.21 294.23 L98.55 296.61 L98.89 299.2 L99.24 301.9 L99.58 304.6 L99.92 307.19 L100.27 309.54 L100.61 311.54 L100.96 313.06 L101.3 314.01 L101.64 314.3 L101.99 313.87 L102.33 312.68 L102.67 310.71 L103.02 307.98 L103.36 304.54 L103.7 300.47 L104.05 295.86 L104.39 290.85 L104.74 285.59 L105.08 280.24 L105.42 274.99 L105.77 270.01 L106.11 265.5 L106.45 261.63 L106.8 258.57 L107.14 256.46 L107.49 255.43 L107.83 255.57 L108.17 256.94 L108.52 259.57 L108.86 263.44 L109.2 268.5 L109.55 274.67 L109.89 281.82 L110.23 289.8 L110.58 298.43 L110.92 307.51 L111.27 316.81 L111.61 326.13 L111.95 335.21 L112.3 343.84 L112.64 351.81 L112.98 358.91 L113.33 364.98 L113.67 369.86 L114.02 373.44 L114.36 375.66 L114.7 376.46 L115.05 375.85 L115.39 373.85 L115.73 370.55 L116.08 366.03 L116.42 360.44 L116.76 353.92 L117.11 346.65 L117.45 338.81 L117.8 330.58 L118.14 322.16 L118.48 313.73 L118.83 305.46 L119.17 297.49 L119.51 289.97 L119.86 283 L120.2 276.65 L120.55 270.99 L120.89 266.02 L121.23 261.77 L121.58 258.18 L121.92 255.22 L122.26 252.81 L122.61 250.86 L122.95 249.29 L123.29 248 L123.64 246.87 L123.98 245.83 L124.33 244.78 L124.67 243.65 L125.01 242.38 L125.36 240.93 L125.7 239.29 L126.04 237.45 L126.39 235.43 L126.73 233.29 L127.07 231.07 L127.42 228.84 L127.76 226.7 L128.11 224.72 L128.45 223 L128.79 221.64 L129.14 220.71 L129.48 220.28 L129.82 220.43 L130.17 221.19 L130.51 222.59 L130.86 224.63 L131.2 227.3 L131.54 230.55 L131.89 234.34 L132.23 238.58 L132.57 243.18 L132.92 248.04 L133.26 253.04 L133.6 258.08 L133.95 263.03 L134.29 267.78 L134.64 272.23 L134.98 276.3 L135.32 279.9 L135.67 282.99 L136.01 285.53 L136.35 287.51 L136.7 288.94 L137.04 289.85 L137.39 290.29 L137.73 290.34 L138.07 290.07 L138.42 289.59 L138.76 288.99 L139.1 288.37 L139.45 287.84 L139.79 287.49 L140.13 287.4 L140.48 287.63 L140.82 288.24 L141.17 289.25 L141.51 290.66 L141.85 292.46 L142.2 294.59 L142.54 297.01 L142.88 299.62 L143.23 302.33 L143.57 305.03 L143.92 307.58 L144.26 309.89 L144.6 311.81 L144.95 313.25 L145.29 314.1 L145.63 314.28 L145.98 313.73 L146.32 312.41 L146.66 310.32 L147.01 307.48 L147.35 303.93 L147.7 299.77 L148.04 295.08 L148.38 290.02 L148.73 284.73 L149.07 279.39 L149.41 274.17 L149.76 269.25 L150.1 264.83 L150.45 261.08 L150.79 258.16 L151.13 256.22 L151.48 255.37 L151.82 255.71 L152.16 257.28 L152.51 260.11 L152.85 264.17 L153.19 269.41 L153.54 275.75 L153.88 283.04 L154.23 291.14 L154.57 299.85 L154.91 308.99 L155.26 318.31 L155.6 327.6 L155.94 336.63 L156.29 345.17 L156.63 353.01 L156.98 359.96 L157.32 365.84 L157.66 370.52 L158.01 373.89 L158.35 375.88 L158.69 376.46 L159.04 375.62 L159.38 373.41 L159.72 369.9 L160.07 365.21 L160.41 359.46 L160.76 352.81 L161.1 345.43 L161.44 337.51 L161.79 329.24 L162.13 320.81 L162.47 312.39 L162.82 304.16 L163.16 296.26 L163.51 288.82 L163.85 281.94 L164.19 275.7 L164.54 270.14 L164.88 265.3 L165.22 261.15 L165.57 257.67 L165.91 254.8 L166.25 252.47 L166.6 250.59 L166.94 249.07 L167.29 247.81 L167.63 246.7 L167.97 245.67 L168.32 244.61 L168.66 243.46 L169 242.16 L169.35 240.68 L169.69 239.01 L170.03 237.14 L170.38 235.1 L170.72 232.94 L171.07 230.71 L171.41 228.49 L171.75 226.37 L172.1 224.42 L172.44 222.76 L172.78 221.46 L173.13 220.6 L173.47 220.27 L173.82 220.51 L174.16 221.37 L174.5 222.87 L174.85 225.02 L175.19 227.78 L175.53 231.13 L175.88 234.99 L176.22 239.29 L176.56 243.94 L176.91 248.83 L177.25 253.85 L177.6 258.88 L177.94 263.8 L178.28 268.52 L178.63 272.91 L178.97 276.91 L179.31 280.43 L179.66 283.44 L180 285.89 L180.35 287.77 L180.69 289.12 L181.03 289.95 L181.38 290.32 L181.72 290.31 L182.06 290.01 L182.41 289.5 L182.75 288.89 L183.09 288.28 L183.44 287.77 L183.78 287.46 L184.13 287.41 L184.47 287.71 L184.81 288.38 L185.16 289.45 L185.5 290.92 L185.84 292.78 L186.19 294.96 L186.53 297.42 L186.88 300.05 L187.22 302.77 L187.56 305.45 L187.91 307.97 L188.25 310.22 L188.59 312.08 L188.94 313.43 L189.28 314.18 L189.62 314.25 L189.97 313.57 L190.31 312.13 L190.66 309.92 L191 306.96 L191.34 303.31 L191.69 299.05 L192.03 294.3 L192.37 289.19 L192.72 283.88 L193.06 278.54 L193.41 273.35 L193.75 268.51 L194.09 264.18 L194.44 260.55 L194.78 257.78 L195.12 256.01 L195.47 255.35 L195.81 255.88 L196.15 257.65 L196.5 260.67 L196.84 264.93 L197.19 270.36 L197.53 276.85 L197.87 284.29 L198.22 292.5 L198.56 301.29 L198.9 310.47 L199.25 319.81 L199.59 329.07 L199.94 338.03 L200.28 346.48 L200.62 354.19 L200.97 360.97 L201.31 366.67 L201.65 371.15 L202 374.3 L202.34 376.07 L202.68 376.42 L203.03 375.36 L203.37 372.93 L203.72 369.23 L204.06 364.36 L204.4 358.45 L204.75 351.67 L205.09 344.2 L205.43 336.21 L205.78 327.9 L206.12 319.46 L206.46 311.06 L206.81 302.87 L207.15 295.03 L207.5 287.67 L207.84 280.89 L208.18 274.76 L208.53 269.32 L208.87 264.59 L209.21 260.55 L209.56 257.17 L209.9 254.39 L210.25 252.14 L210.59 250.32 L210.93 248.85 L211.28 247.62 L211.62 246.54 L211.96 245.5 L212.31 244.43 L212.65 243.26 L212.99 241.94 L213.34 240.43 L213.68 238.72 L214.03 236.82 L214.37 234.76 L214.71 232.58 L215.06 230.35 L215.4 228.14 L215.74 226.04 L216.09 224.14 L216.43 222.52 L216.78 221.29 L217.12 220.51 L217.46 220.27 L217.81 220.61 L218.15 221.57 L218.49 223.17 L218.84 225.42 L219.18 228.28 L219.52 231.71 L219.87 235.65 L220.21 240.01 L220.56 244.71 L220.9 249.63 L221.24 254.66 L221.59 259.68 L221.93 264.57 L222.27 269.24 L222.62 273.58 L222.96 277.51 L223.31 280.95 L223.65 283.87 L223.99 286.23 L224.34 288.03 L224.68 289.28 L225.02 290.04 L225.37 290.34 L225.71 290.28 L226.05 289.94 L226.4 289.4 L226.74 288.79 L227.09 288.19 L227.43 287.71 L227.77 287.43 L228.12 287.44 L228.46 287.79 L228.8 288.52 L229.15 289.66 L229.49 291.2 L229.84 293.11 L230.18 295.34 L230.52 297.83 L230.87 300.48 L231.21 303.2 L231.55 305.86 L231.9 308.36 L232.24 310.55 L232.58 312.33 L232.93 313.59 L233.27 314.24 L233.62 314.19 L233.96 313.39 L234.3 311.83 L234.65 309.49 L234.99 306.42 L235.33 302.66 L235.68 298.32 L236.02 293.5 L236.37 288.35 L236.71 283.02 L237.05 277.7 L237.4 272.55 L237.74 267.78 L238.08 263.55 L238.43 260.05 L238.77 257.43 L239.11 255.83 L239.46 255.35 L239.8 256.08 L240.15 258.05 L240.49 261.27 L240.83 265.72 L241.18 271.33 L241.52 277.98 L241.86 285.55 L242.21 293.87 L242.55 302.74 L242.89 311.96 L243.24 321.3 L243.58 330.53 L243.93 339.43 L244.27 347.76 L244.61 355.34 L244.96 361.96 L245.3 367.47 L245.64 371.75 L245.99 374.68 L246.33 376.22 L246.68 376.34 L247.02 375.06 L247.36 372.42 L247.71 368.52 L248.05 363.48 L248.39 357.42 L248.74 350.52 L249.08 342.95 L249.42 334.9 L249.77 326.56 L250.11 318.11 L250.46 309.73 L250.8 301.59 L251.14 293.82 L251.49 286.55 L251.83 279.87 L252.17 273.84 L252.52 268.52 L252.86 263.89 L253.21 259.96 L253.55 256.68 L253.89 254 L254.24 251.82 L254.58 250.07 L254.92 248.64 L255.27 247.44 L255.61 246.37 L255.95 245.33 L256.3 244.25 L256.64 243.06 L256.99 241.71 L257.33 240.17 L257.67 238.43 L258.02 236.5 L258.36 234.42 L258.7 232.23 L259.05 229.99 L259.39 227.8 L259.74 225.72 L260.08 223.86 L260.42 222.3 L260.77 221.13 L261.11 220.43 L261.45 220.28 L261.8 220.72 L262.14 221.78 L262.48 223.49 L262.83 225.84 L263.17 228.79 L263.52 232.31 L263.86 236.32 L264.2 240.75 L264.55 245.48 L264.89 250.43 L265.23 255.46 L265.58 260.47 L265.92 265.34 L266.27 269.96 L266.61 274.24 L266.95 278.09 L267.3 281.45 L267.64 284.28 L267.98 286.55 L268.33 288.26 L268.67 289.44 L269.01 290.11 L269.36 290.36 L269.7 290.24 L270.05 289.86 L270.39 289.31 L270.73 288.69 L271.08 288.1 L271.42 287.65 L271.76 287.41 L272.11 287.47 L272.45 287.88 L272.8 288.68 L273.14 289.88 L273.48 291.48 L273.83 293.44 L274.17 295.72 L274.51 298.25 L274.86 300.92 L275.2 303.63 L275.54 306.28 L275.89 308.73 L276.23 310.87 L276.58 312.57 L276.92 313.74 L277.26 314.28 L277.61 314.11 L277.95 313.2 L278.29 311.51 L278.64 309.05 L278.98 305.86 L279.33 302 L279.67 297.57 L280.01 292.69 L280.36 287.5 L280.7 282.16 L281.04 276.86 L281.39 271.76 L281.73 267.06 L282.07 262.94 L282.42 259.57 L282.76 257.1 L283.11 255.67 L283.45 255.38 L283.79 256.31 L284.14 258.48 L284.48 261.9 L284.82 266.54 L285.17 272.32 L285.51 279.14 L285.85 286.84 L286.2 295.26 L286.54 304.2 L286.89 313.45 L287.23 322.79 L287.57 331.98 L287.92 340.8 L288.26 349.03 L288.6 356.47 L288.95 362.92 L289.29 368.24 L289.64 372.31 L289.98 375.02 L290.32 376.33 L290.67 376.23 L291.01 374.73 L291.35 371.88 L291.7 367.79 L292.04 362.57 L292.38 356.37 L292.73 349.35 L293.07 341.69 L293.42 333.58 L293.76 325.21 L294.1 316.76 L294.45 308.41 L294.79 300.32 L295.13 292.62 L295.48 285.44 L295.82 278.86 L296.17 272.94 L296.51 267.73 L296.85 263.22 L297.2 259.4 L297.54 256.22 L297.88 253.62 L298.23 251.51 L298.57 249.82 L298.91 248.44 L299.26 247.26 L299.6 246.2 L299.95 245.16 L300.29 244.07 L300.63 242.85 L300.98 241.47 L301.32 239.9 L301.66 238.13 L302.01 236.18 L302.35 234.07 L302.7 231.87 L303.04 229.64 L303.38 227.45 L303.73 225.41 L304.07 223.58 L304.41 222.08 L304.76 220.99 L305.1 220.37 L305.44 220.31 L305.79 220.84 L306.13 222.01 L306.48 223.82 L306.82 226.27 L307.16 229.32 L307.51 232.92 L307.85 237 L308.19 241.49 L308.54 246.26 L308.88 251.23 L309.23 256.27 L309.57 261.26 L309.91 266.1 L310.26 270.67 L310.6 274.89 L310.94 278.66 L311.29 281.94 L311.63 284.68 L311.97 286.86 L312.32 288.49 L312.66 289.58 L313.01 290.18 L313.35 290.36 L313.69 290.2 L314.04 289.78 L314.38 289.21 L314.72 288.59 L315.07 288.02 L315.41 287.59 L315.76 287.4 L316.1 287.51 L316.44 287.98 L316.79 288.84 L317.13 290.11 L317.47 291.77 L317.82 293.79 L318.16 296.11 L318.5 298.67 L318.85 301.35 L319.19 304.06 L319.54 306.69 L319.88 309.1 L320.22 311.17 L320.57 312.8 L320.91 313.87 L321.25 314.3 L321.6 314.02 L321.94 312.98 L322.28 311.16 L322.63 308.59 L322.97 305.29 L323.32 301.33 L323.66 296.82 L324 291.88 L324.35 286.65 L324.69 281.31 L325.03 276.02 L325.38 270.97 L325.72 266.36 L326.07 262.34 L326.41 259.11 L326.75 256.8 L327.1 255.55 L327.44 255.45 L327.78 256.57 L328.13 258.94 L328.47 262.57 L328.81 267.4 L329.16 273.35 L329.5 280.31 L329.85 288.14 L330.19 296.66 L330.53 305.66 L330.88 314.95 L331.22 324.28 L331.56 333.42 L331.91 342.16 L332.25 350.28 L332.6 357.57 L332.94 363.85 L333.28 368.98 L333.63 372.83 L333.97 375.33 L334.31 376.41 L334.66 376.08 L335 374.36 L335.34 371.31 L335.69 367.03 L336.03 361.64 L336.38 355.29 L336.72 348.16 L337.06 340.41 L337.41 332.25 L337.75 323.85 L338.09 315.41 L338.44 307.09 L338.78 299.05 L339.13 291.43 L339.47 284.34 L339.81 277.87 L340.16 272.06 L340.5 266.96" fill="none" stroke="#f00" stroke-width="1.9" stroke-linejoin="round" clip-path="url(#cbl)"/>
<rect x="65.9" y="212.5" width="274.6" height="171.6" fill="none" stroke="#000" stroke-width="1.12"/>
<g stroke="#000" stroke-width="1.12">
<line x1="65.9" y1="384.1" x2="65.9" y2="388.23"/>
<line x1="109.84" y1="384.1" x2="109.84" y2="388.23"/>
<line x1="153.77" y1="384.1" x2="153.77" y2="388.23"/>
<line x1="197.71" y1="384.1" x2="197.71" y2="388.23"/>
<line x1="241.64" y1="384.1" x2="241.64" y2="388.23"/>
<line x1="285.58" y1="384.1" x2="285.58" y2="388.23"/>
<line x1="329.52" y1="384.1" x2="329.52" y2="388.23"/>
<line x1="61.77" y1="357.25" x2="65.9" y2="357.25"/>
<line x1="61.77" y1="320.61" x2="65.9" y2="320.61"/>
<line x1="61.77" y1="283.98" x2="65.9" y2="283.98"/>
<line x1="61.77" y1="247.34" x2="65.9" y2="247.34"/>
</g>
<text x="65.9" y="400.8" text-anchor="middle" font-size="11.81" fill="#000" >0.00</text>
<text x="109.84" y="400.8" text-anchor="middle" font-size="11.81" fill="#000" >0.01</text>
<text x="153.77" y="400.8" text-anchor="middle" font-size="11.81" fill="#000" >0.02</text>
<text x="197.71" y="400.8" text-anchor="middle" font-size="11.81" fill="#000" >0.03</text>
<text x="241.64" y="400.8" text-anchor="middle" font-size="11.81" fill="#000" >0.04</text>
<text x="285.58" y="400.8" text-anchor="middle" font-size="11.81" fill="#000" >0.05</text>
<text x="329.52" y="400.8" text-anchor="middle" font-size="11.81" fill="#000" >0.06</text>
<text x="57.14" y="361.47" text-anchor="end" font-size="11.81" fill="#000" >-4</text>
<text x="57.14" y="324.84" text-anchor="end" font-size="11.81" fill="#000" >-2</text>
<text x="57.14" y="288.2" text-anchor="end" font-size="11.81" fill="#000" >0</text>
<text x="57.14" y="251.57" text-anchor="end" font-size="11.81" fill="#000" >2</text>
<text x="203.2" y="417.06" text-anchor="middle" font-size="11.81" fill="#000" >Time [s]</text>
<text x="39" y="298.3" text-anchor="middle" font-size="11.81" transform="rotate(-90 39 298.3)" fill="#000" letter-spacing="0.3"><tspan font-style="italic">Acc.</tspan> [<tspan font-style="italic">m/s</tspan><tspan font-size="8.26" dy="-4.25">2</tspan><tspan dy="4.25">]</tspan></text>
<rect x="71.8" y="218.6" width="126.14" height="20.74" rx="2.36" fill="#fff" fill-opacity="0.8" stroke="#ccc" stroke-opacity="0.8" stroke-width="1.18"/>
<line x1="76.03" y1="228.28" x2="100.64" y2="228.28" stroke="#f00" stroke-width="1.77"/>
<text x="111.08" y="232.16" font-size="11.81" fill="#000" font-family="'Liberation Sans','Noto Sans CJK SC',sans-serif">各频率信号叠加</text>
</g>
<g id="axbr">
<rect x="395.4" y="212.5" width="275" height="85.9" fill="#fafad2"/>
<rect x="395.4" y="298.4" width="275" height="85.7" fill="#ffa500"/>
<path d="M407.9 216.4 L491.23 216.4 L574.57 294.5 L657.9 294.5" fill="none" stroke="#1f77b4" stroke-width="1.77" stroke-linejoin="round"/>
<circle cx="407.9" cy="216.4" r="3.54" fill="#1f77b4"/>
<circle cx="491.23" cy="216.4" r="3.54" fill="#1f77b4"/>
<circle cx="574.57" cy="294.5" r="3.54" fill="#1f77b4"/>
<circle cx="657.9" cy="294.5" r="3.54" fill="#1f77b4"/>
<path d="M407.9 351.89 L491.23 321.4 L574.57 324.4 L657.9 325.04" fill="none" stroke="#000" stroke-width="1.77" stroke-linejoin="round"/>
<circle cx="407.9" cy="351.89" r="3.54" fill="#000"/>
<circle cx="491.23" cy="321.4" r="3.54" fill="#000"/>
<circle cx="574.57" cy="324.4" r="3.54" fill="#000"/>
<circle cx="657.9" cy="325.04" r="3.54" fill="#000"/>
<g fill="none" stroke="#000" stroke-width="1.12">
<rect x="395.4" y="212.5" width="275" height="85.9"/>
<rect x="395.4" y="298.4" width="275" height="85.7"/>
<line x1="407.9" y1="384.1" x2="407.9" y2="388.23"/>
<line x1="449.57" y1="384.1" x2="449.57" y2="388.23"/>
<line x1="491.23" y1="384.1" x2="491.23" y2="388.23"/>
<line x1="532.9" y1="384.1" x2="532.9" y2="388.23"/>
<line x1="574.57" y1="384.1" x2="574.57" y2="388.23"/>
<line x1="616.23" y1="384.1" x2="616.23" y2="388.23"/>
<line x1="657.9" y1="384.1" x2="657.9" y2="388.23"/>
<line x1="391.27" y1="294.5" x2="395.4" y2="294.5"/>
<line x1="391.27" y1="255.45" x2="395.4" y2="255.45"/>
<line x1="391.27" y1="216.4" x2="395.4" y2="216.4"/>
<line x1="391.27" y1="376.96" x2="395.4" y2="376.96"/>
<line x1="391.27" y1="341.25" x2="395.4" y2="341.25"/>
<line x1="391.27" y1="305.54" x2="395.4" y2="305.54"/>
</g>
<text x="407.9" y="400.8" text-anchor="middle" font-size="11.81" fill="#000" >100</text>
<text x="449.57" y="400.8" text-anchor="middle" font-size="11.81" fill="#000" >150</text>
<text x="491.23" y="400.8" text-anchor="middle" font-size="11.81" fill="#000" >200</text>
<text x="532.9" y="400.8" text-anchor="middle" font-size="11.81" fill="#000" >250</text>
<text x="574.57" y="400.8" text-anchor="middle" font-size="11.81" fill="#000" >300</text>
<text x="616.23" y="400.8" text-anchor="middle" font-size="11.81" fill="#000" >350</text>
<text x="657.9" y="400.8" text-anchor="middle" font-size="11.81" fill="#000" >400</text>
<text x="386.64" y="298.72" text-anchor="end" font-size="11.81" fill="#000" >1.0</text>
<text x="386.64" y="259.68" text-anchor="end" font-size="11.81" fill="#000" >1.5</text>
<text x="386.64" y="220.63" text-anchor="end" font-size="11.81" fill="#000" >2.0</text>
<text x="386.64" y="381.18" text-anchor="end" font-size="11.81" fill="#000" >-5</text>
<text x="386.64" y="345.48" text-anchor="end" font-size="11.81" fill="#000" >0</text>
<text x="386.64" y="309.77" text-anchor="end" font-size="11.81" fill="#000" >5</text>
<text x="532.9" y="417.06" text-anchor="middle" font-size="11.81" fill="#000" >Frequency [Hz]</text>
<text x="362" y="256.25" text-anchor="middle" font-size="11.81" transform="rotate(-90 362 256.25)" fill="#000" letter-spacing="0.3"><tspan font-style="italic">Acc.</tspan> [<tspan font-style="italic">m/s</tspan><tspan font-size="8.26" dy="-4.25">2</tspan><tspan dy="4.25">]</tspan></text>
<text x="369" y="341.65" text-anchor="middle" font-size="11.81" transform="rotate(-90 369 341.65)" fill="#000" >Phase [rad]</text>
<rect x="401.3" y="271.55" width="173.36" height="20.94" rx="2.36" fill="#fff" fill-opacity="0.8" stroke="#ccc" stroke-opacity="0.8" stroke-width="1.18"/>
<line x1="405.52" y1="281.12" x2="430.14" y2="281.12" stroke="#1f77b4" stroke-width="1.77"/>
<circle cx="417.83" cy="281.12" r="3.54" fill="#1f77b4"/>
<text x="440.58" y="285.01" font-size="11.81" fill="#000" font-family="'Liberation Sans','Noto Sans CJK SC',sans-serif">各频率信号幅值<tspan x="519.71">（</tspan><tspan x="535.06">固定</tspan><tspan x="562.93">）</tspan></text>
<rect x="401.3" y="357.25" width="196.97" height="20.94" rx="2.36" fill="#fff" fill-opacity="0.8" stroke="#ccc" stroke-opacity="0.8" stroke-width="1.18"/>
<line x1="405.52" y1="366.83" x2="430.14" y2="366.83" stroke="#000" stroke-width="1.77"/>
<circle cx="417.83" cy="366.83" r="3.54" fill="#000"/>
<text x="440.58" y="370.71" font-size="11.81" fill="#000" font-family="'Liberation Sans','Noto Sans CJK SC',sans-serif">各频率信号初始相位<tspan x="543.33">（</tspan><tspan x="558.68">随机</tspan><tspan x="586.55">）</tspan></text>
</g>
<g id="wm">
<g fill="#fff" fill-opacity="0.84" stroke="#c4c4cc" stroke-width="0.5">
<ellipse cx="486.8" cy="390.6" rx="8.2" ry="7.2"/>
<path d="M481.5 396 L479.5 399.5 L484 397.4 Z" stroke="none"/>
<ellipse cx="495.4" cy="396.9" rx="6.4" ry="5.4"/>
</g>
<g fill="#a8a8b0" fill-opacity="0.6"><circle cx="483.6" cy="387.6" r="0.9"/><circle cx="490.4" cy="387.6" r="0.9"/><circle cx="493" cy="395.4" r="0.8"/><circle cx="498" cy="395.4" r="0.8"/></g>
<g opacity="0.68">
<text x="533.4" y="394.6" font-size="27" font-weight="bold" fill="#c2c2c2" stroke="#fff" stroke-width="2.3" paint-order="stroke" stroke-linejoin="round" font-family="'Liberation Sans','Noto Sans CJK SC',sans-serif">嘉峪检测网</text>
<text x="542.3" y="411.6" text-anchor="start" font-size="14" fill="#b2b2b2" font-style="italic" font-weight="bold" stroke="#fff" stroke-width="1.2" paint-order="stroke" stroke-linejoin="round">Any</text>
<text x="569.3" y="411.6" text-anchor="start" font-size="17.5" fill="#b2b2b2" font-style="italic" font-weight="bold" stroke="#fff" stroke-width="1.2" paint-order="stroke" stroke-linejoin="round">T</text>
<text x="582.3" y="411.6" text-anchor="start" font-size="14" fill="#b2b2b2" font-style="italic" font-weight="bold" stroke="#fff" stroke-width="1.2" paint-order="stroke" stroke-linejoin="round" letter-spacing="1.55">esting.com</text>
</g>
</g>
</g>
</svg>
</body></html>
